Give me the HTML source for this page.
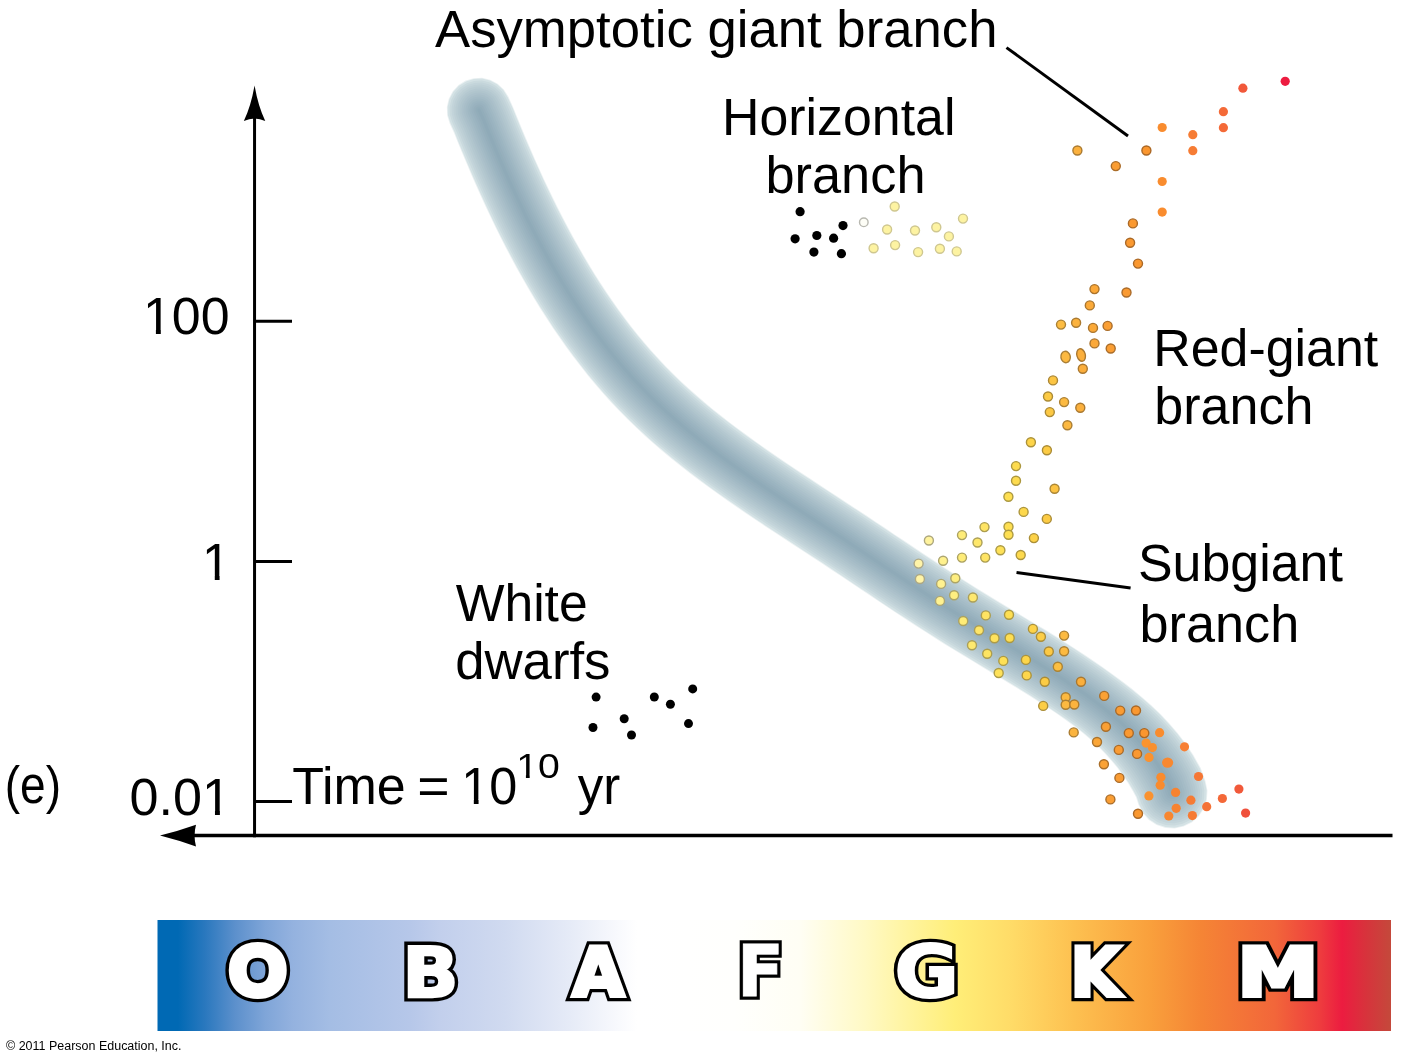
<!DOCTYPE html>
<html lang="en"><head><meta charset="utf-8"><title>H-R diagram (e) Time = 10^10 yr</title>
<style>
html,body{margin:0;padding:0;background:#fff;}
body{width:1402px;height:1062px;overflow:hidden;}
svg{display:block;}
text{white-space:pre;}
</style></head><body>
<svg width="1402" height="1062" viewBox="0 0 1402 1062">
<defs><linearGradient id="sp" x1="0" y1="0" x2="1" y2="0"><stop offset="0.0000" stop-color="#0069b4"/><stop offset="0.0166" stop-color="#0069b4"/><stop offset="0.0385" stop-color="#2a78be"/><stop offset="0.0628" stop-color="#5c90cc"/><stop offset="0.0872" stop-color="#7fa5d8"/><stop offset="0.1099" stop-color="#94b2df"/><stop offset="0.1398" stop-color="#a4bde4"/><stop offset="0.2047" stop-color="#b6c7e9"/><stop offset="0.2290" stop-color="#c2cfec"/><stop offset="0.2817" stop-color="#d0daf0"/><stop offset="0.3352" stop-color="#e6ebf7"/><stop offset="0.3725" stop-color="#f8f9fd"/><stop offset="0.3887" stop-color="#ffffff"/><stop offset="0.4682" stop-color="#fffffd"/><stop offset="0.5209" stop-color="#fffef4"/><stop offset="0.5428" stop-color="#fffce0"/><stop offset="0.5744" stop-color="#fff9c4"/><stop offset="0.6019" stop-color="#fff5a6"/><stop offset="0.6465" stop-color="#ffee78"/><stop offset="0.6911" stop-color="#ffdc68"/><stop offset="0.7438" stop-color="#fdc050"/><stop offset="0.8046" stop-color="#f9a03c"/><stop offset="0.8452" stop-color="#f58535"/><stop offset="0.9060" stop-color="#f2663a"/><stop offset="0.9424" stop-color="#ee3c3e"/><stop offset="0.9603" stop-color="#ec1c40"/><stop offset="0.9789" stop-color="#d8323c"/><stop offset="1.0000" stop-color="#c4493b"/></linearGradient></defs>
<rect width="1402" height="1062" fill="#fff"/>
<g>
<path d="M449.6 123.5 454.0 132.9 457.9 142.7 462.2 153.3 466.7 163.8 471.2 174.4 475.8 184.9 480.5 195.4 485.3 205.9 490.2 216.3 495.2 226.7 500.3 237.1 505.6 247.4 511.0 257.7 516.5 267.9 522.2 278.0 528.0 288.2 533.9 298.2 540.0 308.2 546.3 318.1 552.8 327.9 559.4 337.6 566.2 347.2 573.2 356.7 580.4 366.1 587.8 375.4 595.3 384.5 603.1 393.5 611.1 402.4 619.3 411.0 627.7 419.5 636.3 427.8 645.0 435.9 653.8 443.8 662.7 451.4 671.8 458.9 680.9 466.3 690.1 473.4 699.4 480.5 708.7 487.3 718.1 494.1 727.5 500.7 736.9 507.2 746.4 513.7 755.8 520.1 765.3 526.4 774.7 532.6 784.1 538.8 793.5 544.9 802.9 551.1 812.3 557.2 821.6 563.3 830.8 569.5 840.1 575.6 849.4 581.8 858.7 588.1 868.0 594.3 877.4 600.6 886.8 606.8 896.2 613.1 905.7 619.3 915.2 625.5 924.8 631.6 934.4 637.8 944.1 643.9 953.8 649.8 963.5 655.8 973.2 661.6 982.8 667.4 992.4 673.2 1001.9 678.9 1011.3 684.7 1020.7 690.5 1030.0 696.3 1039.2 702.2 1048.3 708.1 1057.2 714.1 1065.9 720.2 1074.4 726.4 1082.5 732.8 1090.3 739.4 1097.6 746.2 1104.6 753.2 1111.1 760.4 1117.2 767.8 1122.8 775.4 1127.9 783.1 1132.6 790.9 1136.0 797.2 1138.4 804.7 1142.6 813.0 1148.8 819.9 1156.5 825.0 1165.3 827.9 1174.6 828.5 1183.7 826.6 1192.0 822.4 1198.9 816.2 1204.0 808.5 1206.9 799.7 1207.5 790.4 1205.6 781.3 1200.8 768.1 1193.3 754.8 1185.9 743.7 1177.9 733.2 1169.5 723.4 1160.6 714.0 1151.4 705.2 1141.9 697.0 1132.4 689.1 1122.7 681.6 1113.0 674.4 1103.3 667.5 1093.6 660.8 1083.9 654.2 1074.2 647.9 1064.5 641.7 1054.8 635.6 1045.1 629.6 1035.4 623.7 1025.7 617.9 1016.1 612.1 1006.5 606.3 997.0 600.5 987.6 594.8 978.2 589.0 968.9 583.2 959.6 577.2 950.3 571.3 941.0 565.2 931.8 559.1 922.5 553.0 913.3 546.8 904.0 540.6 894.6 534.4 885.3 528.1 876.0 521.9 866.6 515.6 857.2 509.4 847.7 503.2 838.3 497.0 828.9 490.9 819.6 484.8 810.2 478.6 801.0 472.5 791.8 466.4 782.6 460.2 773.5 454.0 764.5 447.8 755.6 441.5 746.8 435.1 738.1 428.7 729.4 422.2 721.0 415.6 712.6 408.9 704.4 402.1 696.3 395.1 688.4 388.1 680.7 380.9 673.1 373.6 665.8 366.2 658.6 358.5 651.5 350.7 644.6 342.8 637.9 334.7 631.3 326.4 624.9 318.0 618.6 309.4 612.5 300.7 606.5 291.9 600.6 283.0 594.8 273.9 589.2 264.8 583.7 255.6 578.4 246.2 573.1 236.8 568.0 227.3 563.0 217.7 558.0 208.1 553.2 198.3 548.5 188.5 543.8 178.7 539.3 168.8 534.8 158.8 530.5 148.8 526.2 138.7 521.9 128.6 517.8 118.4 513.3 107.4 508.4 96.5 503.9 89.4 497.7 83.7 490.3 79.7 482.0 77.8 473.6 78.2 465.5 80.6 458.4 85.1 452.7 91.3 448.7 98.7 446.8 107.0 447.2 115.4Z" fill="#ecf2f3"/>
<path d="M450.4 123.1 454.7 132.6 458.6 142.4 463.0 153.0 467.4 163.5 471.9 174.1 476.5 184.6 481.2 195.1 486.0 205.5 490.9 216.0 495.9 226.4 501.0 236.7 506.3 247.0 511.7 257.3 517.2 267.5 522.9 277.7 528.7 287.7 534.6 297.8 540.7 307.7 547.0 317.6 553.4 327.4 560.1 337.1 566.9 346.7 573.9 356.2 581.0 365.6 588.4 374.9 596.0 384.0 603.7 393.0 611.7 401.8 619.9 410.5 628.3 419.0 636.8 427.2 645.5 435.3 654.3 443.2 663.3 450.8 672.3 458.3 681.4 465.6 690.6 472.8 699.9 479.8 709.2 486.7 718.6 493.4 728.0 500.1 737.4 506.6 746.8 513.0 756.3 519.4 765.7 525.7 775.2 531.9 784.6 538.1 794.0 544.3 803.4 550.4 812.7 556.5 822.0 562.6 831.3 568.8 840.6 575.0 849.9 581.2 859.2 587.4 868.5 593.6 877.8 599.9 887.2 606.2 896.6 612.4 906.1 618.6 915.6 624.8 925.2 631.0 934.8 637.1 944.5 643.2 954.2 649.2 963.9 655.1 973.6 660.9 983.2 666.7 992.8 672.5 1002.3 678.2 1011.8 684.0 1021.1 689.8 1030.4 695.6 1039.6 701.5 1048.7 707.4 1057.6 713.4 1066.4 719.5 1074.9 725.7 1083.0 732.2 1090.8 738.8 1098.2 745.6 1105.2 752.7 1111.7 759.9 1117.8 767.3 1123.4 774.9 1128.6 782.6 1133.3 790.5 1136.8 796.9 1139.2 804.4 1143.2 812.5 1149.3 819.3 1156.9 824.3 1165.5 827.1 1174.5 827.7 1183.4 825.8 1191.5 821.8 1198.3 815.7 1203.3 808.1 1206.1 799.5 1206.7 790.5 1204.8 781.6 1200.0 768.4 1192.6 755.2 1185.3 744.2 1177.3 733.7 1168.9 723.9 1160.0 714.6 1150.8 705.8 1141.4 697.5 1131.9 689.7 1122.2 682.3 1112.5 675.1 1102.8 668.1 1093.2 661.4 1083.5 654.9 1073.8 648.6 1064.1 642.4 1054.4 636.3 1044.7 630.3 1035.0 624.4 1025.3 618.6 1015.7 612.8 1006.1 607.0 996.6 601.2 987.2 595.5 977.8 589.7 968.5 583.8 959.2 577.9 949.9 571.9 940.6 565.9 931.3 559.8 922.1 553.7 912.8 547.5 903.5 541.3 894.2 535.0 884.9 528.8 875.5 522.6 866.1 516.3 856.7 510.1 847.3 503.9 837.9 497.7 828.5 491.6 819.1 485.4 809.8 479.3 800.5 473.2 791.3 467.0 782.2 460.9 773.1 454.7 764.1 448.4 755.1 442.1 746.3 435.8 737.6 429.3 729.0 422.8 720.5 416.2 712.1 409.5 703.9 402.7 695.8 395.7 687.9 388.7 680.1 381.5 672.6 374.2 665.2 366.7 658.0 359.1 650.9 351.3 644.0 343.3 637.3 335.2 630.7 326.9 624.3 318.4 618.0 309.9 611.8 301.2 605.8 292.4 599.9 283.4 594.2 274.4 588.5 265.2 583.1 256.0 577.7 246.6 572.4 237.2 567.3 227.7 562.2 218.1 557.3 208.4 552.5 198.7 547.8 188.9 543.1 179.0 538.6 169.1 534.1 159.1 529.7 149.1 525.4 139.0 521.2 128.9 517.0 118.7 512.6 107.7 507.6 96.9 503.3 89.9 497.2 84.3 490.0 80.5 482.0 78.6 473.7 78.9 465.9 81.4 458.9 85.7 453.3 91.8 449.5 99.0 447.6 107.0 447.9 115.3Z" fill="#d4e2e5"/>
<path d="M452.2 122.3 456.5 131.8 460.5 141.6 464.8 152.2 469.2 162.8 473.7 173.3 478.3 183.8 483.0 194.3 487.8 204.7 492.7 215.1 497.7 225.5 502.8 235.8 508.1 246.1 513.4 256.4 519.0 266.5 524.6 276.7 530.4 286.7 536.3 296.7 542.4 306.7 548.7 316.5 555.1 326.3 561.7 336.0 568.5 345.6 575.5 355.0 582.6 364.4 589.9 373.6 597.5 382.7 605.2 391.7 613.2 400.5 621.3 409.1 629.7 417.5 638.2 425.8 646.9 433.8 655.6 441.7 664.6 449.3 673.6 456.8 682.7 464.1 691.8 471.2 701.1 478.2 710.4 485.1 719.7 491.8 729.1 498.4 738.5 504.9 747.9 511.4 757.4 517.7 766.8 524.0 776.3 530.3 785.7 536.4 795.1 542.6 804.5 548.7 813.8 554.9 823.1 561.0 832.4 567.1 841.7 573.3 851.0 579.5 860.3 585.7 869.6 592.0 878.9 598.2 888.3 604.5 897.7 610.7 907.2 616.9 916.7 623.1 926.3 629.3 935.9 635.4 945.6 641.5 955.3 647.5 964.9 653.4 974.6 659.2 984.2 665.0 993.8 670.8 1003.3 676.5 1012.8 682.3 1022.2 688.1 1031.5 693.9 1040.7 699.8 1049.8 705.8 1058.8 711.8 1067.5 717.9 1076.0 724.1 1084.2 730.6 1092.1 737.2 1099.6 744.1 1106.6 751.2 1113.2 758.5 1119.4 765.9 1125.1 773.6 1130.4 781.4 1135.2 789.4 1138.8 796.0 1141.3 803.7 1145.1 811.3 1150.7 817.6 1157.8 822.3 1165.9 825.0 1174.4 825.4 1182.7 823.7 1190.3 819.9 1196.6 814.3 1201.3 807.2 1204.0 799.1 1204.4 790.6 1202.7 782.3 1198.0 769.3 1190.7 756.3 1183.5 745.4 1175.6 735.0 1167.2 725.3 1158.5 716.0 1149.4 707.3 1140.0 699.1 1130.5 691.3 1121.0 683.8 1111.3 676.7 1101.7 669.8 1092.1 663.1 1082.4 656.6 1072.7 650.3 1063.0 644.1 1053.3 638.0 1043.6 632.0 1034.0 626.1 1024.3 620.3 1014.7 614.5 1005.1 608.7 995.6 602.9 986.1 597.2 976.7 591.4 967.4 585.5 958.1 579.6 948.8 573.6 939.5 567.6 930.2 561.5 921.0 555.3 911.7 549.2 902.4 542.9 893.1 536.7 883.8 530.5 874.4 524.2 865.0 518.0 855.6 511.7 846.2 505.5 836.8 499.4 827.4 493.2 818.0 487.1 808.7 481.0 799.4 474.9 790.2 468.7 781.0 462.5 772.0 456.3 762.9 450.1 754.0 443.8 745.1 437.4 736.4 430.9 727.7 424.4 719.2 417.8 710.8 411.1 702.6 404.2 694.5 397.2 686.5 390.2 678.8 383.0 671.2 375.6 663.8 368.1 656.5 360.4 649.4 352.6 642.5 344.6 635.7 336.4 629.1 328.1 622.7 319.6 616.3 311.0 610.2 302.3 604.1 293.5 598.2 284.5 592.5 275.4 586.8 266.3 581.3 257.0 575.9 247.6 570.7 238.1 565.5 228.6 560.5 219.0 555.5 209.3 550.7 199.6 546.0 189.7 541.3 179.9 536.8 169.9 532.3 159.9 527.9 149.9 523.6 139.8 519.3 129.6 515.2 119.5 510.8 108.5 505.8 97.7 501.7 91.2 496.1 85.9 489.3 82.3 481.8 80.6 474.1 80.9 466.7 83.2 460.2 87.3 454.9 92.9 451.3 99.7 449.6 107.2 449.9 114.9Z" fill="#cadade"/>
<path d="M454.0 121.5 458.4 131.0 462.4 140.9 466.7 151.4 471.1 162.0 475.6 172.5 480.2 183.0 484.8 193.4 489.6 203.9 494.5 214.2 499.5 224.6 504.6 234.9 509.8 245.2 515.2 255.4 520.7 265.6 526.3 275.7 532.1 285.7 538.0 295.7 544.1 305.6 550.4 315.5 556.8 325.2 563.3 334.8 570.1 344.4 577.1 353.8 584.2 363.1 591.5 372.3 599.0 381.4 606.7 390.3 614.6 399.1 622.8 407.7 631.1 416.1 639.6 424.3 648.2 432.3 657.0 440.2 665.8 447.8 674.8 455.2 683.9 462.5 693.1 469.6 702.3 476.6 711.6 483.4 720.9 490.2 730.3 496.8 739.6 503.3 749.1 509.7 758.5 516.1 767.9 522.4 777.4 528.6 786.8 534.8 796.2 540.9 805.6 547.1 814.9 553.2 824.2 559.3 833.5 565.5 842.8 571.6 852.1 577.9 861.4 584.1 870.7 590.3 880.0 596.6 889.4 602.8 898.8 609.1 908.3 615.3 917.8 621.5 927.4 627.6 937.0 633.7 946.6 639.8 956.3 645.7 966.0 651.7 975.6 657.5 985.3 663.3 994.8 669.1 1004.4 674.8 1013.9 680.6 1023.3 686.4 1032.6 692.2 1041.8 698.1 1050.9 704.1 1059.9 710.1 1068.7 716.2 1077.2 722.5 1085.5 729.0 1093.4 735.7 1100.9 742.6 1108.1 749.7 1114.8 757.0 1121.0 764.5 1126.9 772.3 1132.2 780.2 1137.1 788.3 1140.8 795.1 1143.4 803.0 1146.9 810.0 1152.2 815.9 1158.8 820.3 1166.3 822.8 1174.2 823.2 1182.0 821.6 1189.0 818.1 1194.9 812.8 1199.3 806.2 1201.8 798.7 1202.2 790.8 1200.6 783.0 1196.0 770.2 1188.8 757.4 1181.6 746.6 1173.9 736.4 1165.6 726.6 1156.9 717.5 1147.9 708.8 1138.7 700.6 1129.2 692.8 1119.7 685.4 1110.1 678.3 1100.5 671.4 1090.9 664.7 1081.3 658.3 1071.6 651.9 1062.0 645.8 1052.3 639.7 1042.6 633.7 1032.9 627.8 1023.3 622.0 1013.6 616.2 1004.1 610.4 994.5 604.6 985.1 598.9 975.7 593.1 966.3 587.2 957.0 581.3 947.7 575.3 938.4 569.3 929.1 563.1 919.9 557.0 910.6 550.8 901.3 544.6 892.0 538.4 882.6 532.1 873.3 525.9 863.9 519.6 854.5 513.4 845.1 507.2 835.7 501.0 826.3 494.9 816.9 488.8 807.6 482.6 798.3 476.5 789.1 470.4 779.9 464.2 770.8 458.0 761.8 451.7 752.8 445.4 744.0 439.0 735.2 432.5 726.5 426.0 718.0 419.4 709.6 412.6 701.3 405.7 693.2 398.8 685.2 391.6 677.4 384.4 669.8 377.0 662.3 369.5 655.1 361.8 647.9 353.9 641.0 345.9 634.2 337.7 627.6 329.3 621.1 320.8 614.7 312.2 608.5 303.5 602.5 294.6 596.5 285.6 590.8 276.5 585.1 267.3 579.6 258.0 574.2 248.6 568.9 239.1 563.7 229.6 558.7 219.9 553.7 210.2 548.9 200.4 544.2 190.6 539.5 180.7 534.9 170.7 530.5 160.7 526.1 150.7 521.7 140.6 517.5 130.4 513.3 120.2 508.9 109.3 504.0 98.5 500.2 92.5 494.9 87.6 488.6 84.2 481.6 82.6 474.4 82.9 467.5 85.0 461.5 88.8 456.6 94.1 453.2 100.4 451.6 107.4 451.9 114.6Z" fill="#c3d4da"/>
<path d="M455.8 120.6 460.2 130.2 464.2 140.1 468.5 150.7 472.9 161.2 477.4 171.7 482.0 182.2 486.7 192.6 491.4 203.0 496.3 213.4 501.3 223.7 506.4 234.0 511.6 244.3 517.0 254.5 522.5 264.6 528.1 274.7 533.8 284.7 539.7 294.7 545.8 304.6 552.0 314.4 558.4 324.1 565.0 333.7 571.7 343.2 578.7 352.6 585.8 361.9 593.0 371.1 600.5 380.1 608.2 389.0 616.1 397.7 624.2 406.3 632.5 414.7 640.9 422.9 649.5 430.9 658.3 438.7 667.1 446.2 676.1 453.7 685.1 460.9 694.3 468.1 703.5 475.0 712.7 481.8 722.1 488.6 731.4 495.1 740.8 501.6 750.2 508.1 759.6 514.4 769.0 520.7 778.5 526.9 787.9 533.1 797.3 539.2 806.6 545.4 816.0 551.5 825.3 557.6 834.6 563.8 843.9 570.0 853.2 576.2 862.5 582.4 871.8 588.7 881.2 594.9 890.5 601.2 900.0 607.4 909.4 613.6 918.9 619.8 928.4 625.9 938.0 632.0 947.7 638.1 957.3 644.0 967.0 649.9 976.7 655.8 986.3 661.6 995.9 667.4 1005.4 673.1 1014.9 678.9 1024.3 684.7 1033.6 690.5 1042.9 696.5 1052.0 702.4 1061.0 708.5 1069.8 714.6 1078.4 720.9 1086.7 727.4 1094.7 734.1 1102.3 741.1 1109.5 748.2 1116.3 755.6 1122.7 763.2 1128.6 771.0 1134.0 778.9 1139.0 787.1 1142.8 794.1 1145.5 802.2 1148.7 808.8 1153.6 814.3 1159.8 818.3 1166.7 820.6 1174.0 821.0 1181.2 819.5 1187.8 816.3 1193.3 811.4 1197.3 805.2 1199.6 798.3 1200.0 791.0 1198.5 783.8 1194.0 771.2 1186.9 758.6 1179.8 747.9 1172.2 737.7 1164.0 728.0 1155.4 718.9 1146.5 710.3 1137.3 702.1 1127.9 694.4 1118.5 687.0 1108.9 679.9 1099.4 673.0 1089.8 666.4 1080.2 659.9 1070.6 653.6 1060.9 647.5 1051.2 641.4 1041.5 635.4 1031.9 629.5 1022.2 623.7 1012.6 617.9 1003.0 612.1 993.5 606.4 984.0 600.6 974.6 594.8 965.3 588.9 955.9 583.0 946.6 577.0 937.3 570.9 928.0 564.8 918.8 558.7 909.5 552.5 900.2 546.3 890.9 540.0 881.5 533.8 872.2 527.5 862.8 521.3 853.4 515.1 844.0 508.9 834.6 502.7 825.2 496.6 815.8 490.4 806.5 484.3 797.2 478.2 788.0 472.0 778.8 465.9 769.7 459.6 760.6 453.4 751.7 447.0 742.8 440.6 734.0 434.1 725.3 427.6 716.8 420.9 708.3 414.2 700.0 407.3 691.8 400.3 683.8 393.1 676.0 385.9 668.4 378.5 660.9 370.9 653.6 363.2 646.4 355.2 639.5 347.2 632.6 338.9 626.0 330.6 619.5 322.0 613.1 313.4 606.9 304.6 600.8 295.7 594.9 286.7 589.1 277.5 583.4 268.3 577.9 259.0 572.5 249.6 567.2 240.1 562.0 230.5 556.9 220.8 552.0 211.1 547.1 201.3 542.3 191.5 537.7 181.5 533.1 171.6 528.6 161.5 524.2 151.5 519.9 141.3 515.6 131.2 511.5 121.0 507.1 110.1 502.2 99.4 498.6 93.7 493.8 89.2 487.9 86.1 481.4 84.6 474.7 84.9 468.4 86.8 462.7 90.4 458.2 95.2 455.1 101.1 453.6 107.6 453.9 114.3Z" fill="#bed0d6"/>
<path d="M457.6 119.8 462.1 129.4 466.1 139.4 470.4 149.9 474.8 160.4 479.2 170.9 483.8 181.4 488.5 191.8 493.2 202.2 498.1 212.5 503.1 222.8 508.2 233.1 513.4 243.3 518.7 253.5 524.2 263.7 529.8 273.7 535.6 283.7 541.5 293.6 547.5 303.5 553.7 313.3 560.1 323.0 566.6 332.6 573.4 342.1 580.3 351.4 587.3 360.7 594.6 369.8 602.1 378.8 609.7 387.7 617.6 396.4 625.6 404.9 633.9 413.3 642.3 421.4 650.9 429.4 659.6 437.1 668.4 444.7 677.3 452.1 686.4 459.4 695.5 466.5 704.7 473.4 713.9 480.2 723.2 486.9 732.6 493.5 741.9 500.0 751.3 506.4 760.7 512.7 770.1 519.0 779.6 525.2 789.0 531.4 798.4 537.6 807.7 543.7 817.1 549.8 826.4 556.0 835.7 562.1 845.0 568.3 854.3 574.5 863.6 580.8 872.9 587.0 882.3 593.2 891.6 599.5 901.1 605.7 910.5 611.9 920.0 618.1 929.5 624.2 939.1 630.3 948.7 636.4 958.4 642.3 968.1 648.2 977.7 654.1 987.3 659.9 996.9 665.6 1006.4 671.4 1015.9 677.2 1025.4 683.0 1034.7 688.9 1044.0 694.8 1053.1 700.8 1062.1 706.8 1071.0 713.0 1079.6 719.3 1088.0 725.8 1096.0 732.6 1103.7 739.5 1111.0 746.7 1117.8 754.1 1124.3 761.8 1130.3 769.6 1135.8 777.7 1140.9 786.0 1144.8 793.2 1147.6 801.5 1150.6 807.5 1155.1 812.6 1160.7 816.3 1167.1 818.4 1173.9 818.8 1180.5 817.4 1186.5 814.4 1191.6 809.9 1195.3 804.3 1197.4 797.9 1197.8 791.1 1196.4 784.5 1192.0 772.1 1185.0 759.7 1178.0 749.1 1170.4 739.0 1162.4 729.4 1153.8 720.3 1145.0 711.8 1135.9 703.7 1126.6 696.0 1117.2 688.6 1107.7 681.5 1098.2 674.7 1088.7 668.0 1079.1 661.6 1069.5 655.3 1059.8 649.1 1050.2 643.1 1040.5 637.1 1030.9 631.2 1021.2 625.4 1011.6 619.6 1002.0 613.8 992.5 608.1 983.0 602.3 973.5 596.5 964.2 590.6 954.9 584.7 945.5 578.6 936.2 572.6 926.9 566.5 917.6 560.3 908.4 554.1 899.1 547.9 889.7 541.7 880.4 535.5 871.1 529.2 861.7 523.0 852.3 516.7 842.9 510.5 833.5 504.4 824.1 498.2 814.7 492.1 805.4 486.0 796.1 479.9 786.9 473.7 777.7 467.5 768.6 461.3 759.5 455.0 750.5 448.7 741.6 442.2 732.8 435.7 724.1 429.2 715.5 422.5 707.1 415.7 698.7 408.8 690.5 401.8 682.5 394.6 674.6 387.3 666.9 379.9 659.4 372.3 652.1 364.5 644.9 356.6 637.9 348.5 631.1 340.2 624.4 331.8 617.9 323.2 611.5 314.5 605.2 305.7 599.1 296.8 593.2 287.8 587.4 278.6 581.7 269.4 576.1 260.0 570.7 250.6 565.4 241.0 560.2 231.4 555.1 221.8 550.2 212.0 545.3 202.2 540.5 192.3 535.9 182.4 531.3 172.4 526.8 162.3 522.4 152.3 518.1 142.1 513.8 131.9 509.6 121.7 505.2 110.9 500.4 100.2 497.1 95.0 492.6 90.8 487.2 88.0 481.2 86.6 475.1 86.8 469.2 88.6 464.0 91.9 459.8 96.4 457.0 101.8 455.6 107.8 455.8 113.9Z" fill="#b9ccd3"/>
<path d="M459.5 119.0 463.9 128.6 467.9 138.6 472.2 149.2 476.6 159.6 481.1 170.1 485.6 180.5 490.3 191.0 495.0 201.3 499.9 211.7 504.9 222.0 510.0 232.2 515.2 242.4 520.5 252.6 526.0 262.7 531.6 272.7 537.3 282.7 543.2 292.6 549.2 302.4 555.4 312.2 561.8 321.8 568.3 331.4 575.0 340.9 581.9 350.2 588.9 359.5 596.2 368.6 603.6 377.5 611.2 386.4 619.0 395.0 627.1 403.5 635.3 411.9 643.7 420.0 652.2 427.9 660.9 435.6 669.7 443.2 678.6 450.6 687.6 457.8 696.7 464.9 705.9 471.8 715.1 478.6 724.4 485.3 733.7 491.9 743.0 498.4 752.4 504.8 761.8 511.1 771.2 517.4 780.7 523.6 790.1 529.8 799.5 535.9 808.8 542.0 818.2 548.2 827.5 554.3 836.8 560.5 846.1 566.6 855.4 572.9 864.7 579.1 874.0 585.3 883.4 591.6 892.8 597.8 902.2 604.0 911.6 610.3 921.1 616.4 930.6 622.6 940.2 628.6 949.8 634.7 959.4 640.6 969.1 646.5 978.7 652.4 988.4 658.2 997.9 663.9 1007.5 669.7 1017.0 675.5 1026.4 681.3 1035.8 687.2 1045.0 693.1 1054.2 699.1 1063.3 705.2 1072.2 711.4 1080.8 717.7 1089.2 724.2 1097.3 731.0 1105.0 738.0 1112.4 745.2 1119.4 752.7 1125.9 760.4 1132.0 768.3 1137.6 776.5 1142.8 784.9 1146.9 792.3 1149.6 800.8 1152.4 806.3 1156.5 810.9 1161.7 814.3 1167.6 816.2 1173.7 816.6 1179.8 815.4 1185.3 812.6 1189.9 808.5 1193.3 803.3 1195.2 797.4 1195.6 791.3 1194.4 785.2 1190.0 773.0 1183.1 760.8 1176.2 750.3 1168.7 740.3 1160.7 730.8 1152.3 721.8 1143.6 713.3 1134.5 705.2 1125.3 697.5 1116.0 690.2 1106.5 683.1 1097.1 676.3 1087.5 669.7 1078.0 663.3 1068.4 657.0 1058.8 650.8 1049.1 644.8 1039.5 638.8 1029.8 632.9 1020.2 627.1 1010.5 621.3 1001.0 615.5 991.4 609.8 981.9 604.0 972.5 598.2 963.1 592.3 953.8 586.3 944.4 580.3 935.1 574.3 925.8 568.2 916.5 562.0 907.3 555.8 898.0 549.6 888.6 543.4 879.3 537.1 870.0 530.9 860.6 524.6 851.2 518.4 841.8 512.2 832.4 506.1 823.0 499.9 813.6 493.8 804.3 487.7 795.0 481.5 785.8 475.4 776.6 469.2 767.4 462.9 758.3 456.6 749.3 450.3 740.4 443.9 731.6 437.3 722.9 430.8 714.3 424.1 705.8 417.3 697.4 410.3 689.2 403.3 681.2 396.1 673.3 388.8 665.5 381.3 658.0 373.7 650.6 365.9 643.4 357.9 636.4 349.8 629.5 341.5 622.8 333.0 616.3 324.4 609.8 315.7 603.6 306.9 597.5 297.9 591.5 288.8 585.7 279.7 580.0 270.4 574.4 261.0 569.0 251.5 563.7 242.0 558.5 232.4 553.4 222.7 548.4 212.9 543.5 203.1 538.7 193.2 534.1 183.2 529.5 173.2 525.0 163.2 520.6 153.1 516.2 142.9 511.9 132.7 507.8 122.5 503.4 111.7 498.5 101.0 495.6 96.3 491.5 92.5 486.5 89.8 481.0 88.6 475.4 88.8 470.0 90.5 465.3 93.4 461.5 97.5 458.8 102.5 457.6 108.0 457.8 113.6Z" fill="#b4c8d0"/>
<path d="M461.3 118.1 465.7 127.8 469.8 137.9 474.1 148.4 478.4 158.9 482.9 169.3 487.5 179.7 492.1 190.1 496.9 200.5 501.7 210.8 506.7 221.1 511.8 231.3 516.9 241.5 522.3 251.7 527.7 261.7 533.3 271.7 539.0 281.7 544.9 291.6 550.9 301.4 557.1 311.1 563.4 320.7 569.9 330.3 576.6 339.7 583.5 349.0 590.5 358.2 597.7 367.3 605.1 376.2 612.7 385.0 620.5 393.7 628.5 402.2 636.7 410.4 645.1 418.5 653.6 426.4 662.2 434.1 671.0 441.7 679.9 449.0 688.9 456.2 697.9 463.3 707.1 470.2 716.3 477.0 725.5 483.7 734.8 490.2 744.2 496.7 753.6 503.1 762.9 509.4 772.3 515.7 781.8 521.9 791.2 528.1 800.6 534.2 809.9 540.4 819.3 546.5 828.6 552.6 837.9 558.8 847.2 565.0 856.5 571.2 865.8 577.4 875.2 583.7 884.5 589.9 893.9 596.2 903.3 602.4 912.7 608.6 922.2 614.7 931.7 620.9 941.2 627.0 950.8 633.0 960.5 638.9 970.1 644.8 979.8 650.6 989.4 656.4 999.0 662.2 1008.5 668.0 1018.0 673.8 1027.5 679.6 1036.8 685.5 1046.1 691.4 1055.3 697.4 1064.4 703.5 1073.3 709.7 1082.0 716.1 1090.5 722.6 1098.6 729.4 1106.4 736.5 1113.9 743.7 1120.9 751.2 1127.5 759.0 1133.7 767.0 1139.4 775.3 1144.6 783.8 1148.9 791.4 1151.7 800.0 1154.3 805.0 1158.0 809.2 1162.7 812.3 1168.0 814.1 1173.6 814.4 1179.0 813.3 1184.0 810.7 1188.2 807.0 1191.3 802.3 1193.1 797.0 1193.4 791.4 1192.3 786.0 1187.9 773.9 1181.2 762.0 1174.4 751.5 1167.0 741.6 1159.1 732.2 1150.8 723.2 1142.1 714.8 1133.2 706.7 1124.0 699.1 1114.7 691.8 1105.3 684.7 1095.9 677.9 1086.4 671.3 1076.9 664.9 1067.3 658.7 1057.7 652.5 1048.1 646.5 1038.4 640.5 1028.8 634.7 1019.1 628.8 1009.5 623.0 999.9 617.3 990.4 611.5 980.9 605.7 971.4 599.9 962.1 594.0 952.7 588.0 943.4 582.0 934.0 575.9 924.7 569.8 915.4 563.7 906.1 557.5 896.8 551.3 887.5 545.0 878.2 538.8 868.9 532.5 859.5 526.3 850.1 520.1 840.7 513.9 831.3 507.7 821.9 501.6 812.5 495.5 803.2 489.3 793.9 483.2 784.6 477.0 775.4 470.8 766.3 464.6 757.2 458.3 748.2 451.9 739.3 445.5 730.4 438.9 721.7 432.3 713.0 425.6 704.5 418.8 696.1 411.9 687.9 404.8 679.8 397.6 671.9 390.2 664.1 382.7 656.6 375.1 649.2 367.2 641.9 359.2 634.9 351.0 628.0 342.7 621.2 334.3 614.7 325.6 608.2 316.9 601.9 308.0 595.8 299.0 589.8 289.9 584.0 280.7 578.3 271.4 572.7 262.0 567.2 252.5 561.9 243.0 556.7 233.3 551.6 223.6 546.6 213.8 541.7 204.0 536.9 194.0 532.2 184.1 527.6 174.0 523.1 164.0 518.7 153.8 514.4 143.7 510.1 133.5 505.9 123.2 501.6 112.4 496.7 101.9 494.0 97.6 490.3 94.1 485.8 91.7 480.8 90.6 475.7 90.8 470.9 92.3 466.6 95.0 463.1 98.7 460.7 103.2 459.6 108.2 459.8 113.3Z" fill="#b0c5cd"/>
<path d="M463.1 117.3 467.6 127.1 471.6 137.1 475.9 147.6 480.3 158.1 484.7 168.5 489.3 178.9 493.9 189.3 498.7 199.6 503.5 209.9 508.5 220.2 513.5 230.4 518.7 240.6 524.0 250.7 529.5 260.8 535.0 270.8 540.7 280.7 546.6 290.5 552.6 300.3 558.8 310.0 565.1 319.6 571.6 329.1 578.2 338.5 585.1 347.8 592.1 357.0 599.3 366.0 606.6 375.0 614.2 383.7 622.0 392.3 629.9 400.8 638.1 409.0 646.4 417.1 654.9 424.9 663.5 432.6 672.3 440.1 681.1 447.5 690.1 454.7 699.1 461.7 708.3 468.6 717.4 475.4 726.7 482.0 736.0 488.6 745.3 495.1 754.7 501.4 764.1 507.8 773.4 514.0 782.9 520.2 792.3 526.4 801.6 532.6 811.0 538.7 820.4 544.8 829.7 551.0 839.0 557.1 848.3 563.3 857.6 569.5 866.9 575.8 876.3 582.0 885.6 588.2 895.0 594.5 904.4 600.7 913.8 606.9 923.2 613.1 932.7 619.2 942.3 625.3 951.9 631.3 961.5 637.2 971.2 643.1 980.8 648.9 990.4 654.7 1000.0 660.5 1009.6 666.3 1019.1 672.1 1028.5 677.9 1037.9 683.8 1047.2 689.7 1056.4 695.8 1065.5 701.9 1074.5 708.1 1083.2 714.5 1091.7 721.1 1099.9 727.9 1107.8 734.9 1115.3 742.2 1122.5 749.8 1129.2 757.6 1135.4 765.7 1141.2 774.0 1146.5 782.6 1150.9 790.5 1153.8 799.3 1156.1 803.8 1159.4 807.6 1163.6 810.3 1168.4 811.9 1173.4 812.2 1178.3 811.2 1182.8 808.9 1186.6 805.6 1189.3 801.4 1190.9 796.6 1191.2 791.6 1190.2 786.7 1185.9 774.8 1179.4 763.1 1172.6 752.8 1165.3 742.9 1157.5 733.6 1149.2 724.7 1140.7 716.2 1131.8 708.2 1122.7 700.6 1113.5 693.3 1104.1 686.3 1094.7 679.6 1085.3 673.0 1075.8 666.6 1066.2 660.3 1056.6 654.2 1047.0 648.2 1037.4 642.2 1027.7 636.4 1018.1 630.5 1008.5 624.7 998.9 619.0 989.3 613.2 979.8 607.4 970.4 601.6 961.0 595.7 951.6 589.7 942.3 583.7 932.9 577.6 923.6 571.5 914.3 565.3 905.0 559.1 895.7 552.9 886.4 546.7 877.1 540.4 867.8 534.2 858.4 528.0 849.0 521.7 839.6 515.6 830.2 509.4 820.8 503.3 811.4 497.1 802.1 491.0 792.8 484.9 783.5 478.7 774.3 472.5 765.2 466.2 756.0 459.9 747.0 453.5 738.1 447.1 729.2 440.6 720.4 433.9 711.8 427.2 703.3 420.4 694.9 413.4 686.6 406.3 678.5 399.0 670.5 391.7 662.7 384.1 655.1 376.4 647.7 368.6 640.4 360.5 633.4 352.3 626.4 344.0 619.7 335.5 613.1 326.8 606.6 318.1 600.3 309.2 594.2 300.1 588.2 291.0 582.3 281.8 576.6 272.5 571.0 263.0 565.5 253.5 560.1 243.9 554.9 234.3 549.8 224.5 544.8 214.7 539.9 204.8 535.1 194.9 530.4 184.9 525.8 174.9 521.3 164.8 516.9 154.6 512.5 144.5 508.3 134.2 504.0 124.0 499.7 113.2 494.9 102.7 492.5 98.8 489.1 95.7 485.1 93.6 480.6 92.6 476.1 92.7 471.7 94.1 467.8 96.5 464.7 99.9 462.6 103.9 461.6 108.4 461.7 112.9Z" fill="#acc1cb"/>
<path d="M464.9 116.5 469.4 126.3 473.5 136.4 477.8 146.9 482.1 157.3 486.6 167.7 491.1 178.1 495.8 188.5 500.5 198.8 505.3 209.1 510.3 219.3 515.3 229.5 520.5 239.7 525.8 249.8 531.2 259.8 536.8 269.8 542.5 279.7 548.3 289.5 554.3 299.3 560.4 308.9 566.7 318.5 573.2 328.0 579.8 337.4 586.7 346.6 593.6 355.8 600.8 364.8 608.2 373.7 615.7 382.4 623.4 391.0 631.4 399.4 639.5 407.6 647.8 415.6 656.3 423.5 664.9 431.1 673.6 438.6 682.4 445.9 691.3 453.1 700.4 460.1 709.5 467.0 718.6 473.8 727.9 480.4 737.1 487.0 746.4 493.4 755.8 499.8 765.2 506.1 774.6 512.4 784.0 518.6 793.4 524.7 802.7 530.9 812.1 537.0 821.5 543.2 830.8 549.3 840.1 555.5 849.4 561.7 858.7 567.9 868.1 574.1 877.4 580.3 886.7 586.6 896.1 592.8 905.5 599.0 914.9 605.2 924.3 611.4 933.8 617.5 943.4 623.6 953.0 629.6 962.6 635.5 972.2 641.4 981.8 647.2 991.5 653.0 1001.0 658.8 1010.6 664.6 1020.1 670.4 1029.6 676.2 1039.0 682.1 1048.3 688.1 1057.5 694.1 1066.7 700.2 1075.6 706.5 1084.4 712.9 1093.0 719.5 1101.2 726.3 1109.2 733.4 1116.8 740.8 1124.0 748.4 1130.8 756.2 1137.2 764.4 1143.0 772.8 1148.4 781.5 1152.9 789.6 1155.9 798.6 1157.9 802.6 1160.9 805.9 1164.6 808.3 1168.8 809.7 1173.2 810.0 1177.6 809.1 1181.6 807.1 1184.9 804.1 1187.3 800.4 1188.7 796.2 1189.0 791.8 1188.1 787.4 1183.9 775.7 1177.5 764.2 1170.8 754.0 1163.6 744.2 1155.9 734.9 1147.7 726.1 1139.2 717.7 1130.4 709.8 1121.4 702.2 1112.2 694.9 1102.9 687.9 1093.6 681.2 1084.2 674.6 1074.7 668.3 1065.1 662.0 1055.6 655.9 1045.9 649.9 1036.3 643.9 1026.7 638.1 1017.1 632.2 1007.5 626.5 997.9 620.7 988.3 614.9 978.8 609.1 969.3 603.3 959.9 597.4 950.5 591.4 941.2 585.4 931.8 579.3 922.5 573.2 913.2 567.0 903.9 560.8 894.6 554.6 885.3 548.3 876.0 542.1 866.6 535.9 857.3 529.6 847.9 523.4 838.5 517.2 829.1 511.1 819.7 504.9 810.3 498.8 801.0 492.7 791.7 486.5 782.4 480.3 773.2 474.1 764.0 467.9 754.9 461.5 745.9 455.2 736.9 448.7 728.0 442.2 719.2 435.5 710.6 428.8 702.0 421.9 693.6 414.9 685.3 407.8 677.1 400.5 669.1 393.1 661.3 385.6 653.7 377.8 646.2 369.9 638.9 361.9 631.8 353.6 624.9 345.2 618.1 336.7 611.5 328.0 605.0 319.2 598.7 310.3 592.5 301.3 586.5 292.1 580.6 282.8 574.8 273.5 569.2 264.0 563.8 254.5 558.4 244.9 553.2 235.2 548.0 225.4 543.0 215.6 538.1 205.7 533.3 195.8 528.6 185.8 524.0 175.7 519.5 165.6 515.0 155.4 510.7 145.2 506.4 135.0 502.2 124.7 497.9 114.0 493.1 103.5 490.9 100.1 488.0 97.4 484.4 95.5 480.5 94.6 476.4 94.7 472.5 95.9 469.1 98.1 466.4 101.0 464.5 104.6 463.6 108.5 463.7 112.6Z" fill="#a8bec8"/>
<path d="M466.7 115.6 471.2 125.5 475.3 135.6 479.6 146.1 484.0 156.5 488.4 166.9 493.0 177.3 497.6 187.7 502.3 198.0 507.1 208.2 512.1 218.5 517.1 228.6 522.3 238.8 527.6 248.8 533.0 258.8 538.5 268.8 544.2 278.7 550.0 288.5 556.0 298.2 562.1 307.8 568.4 317.4 574.8 326.9 581.5 336.2 588.3 345.4 595.2 354.5 602.4 363.5 609.7 372.4 617.2 381.1 624.9 389.6 632.8 398.0 640.9 406.2 649.2 414.2 657.6 422.0 666.2 429.6 674.9 437.1 683.7 444.4 692.6 451.5 701.6 458.5 710.7 465.4 719.8 472.1 729.0 478.8 738.3 485.3 747.6 491.8 756.9 498.1 766.3 504.4 775.7 510.7 785.1 516.9 794.4 523.1 803.8 529.2 813.2 535.3 822.6 541.5 831.9 547.6 841.2 553.8 850.5 560.0 859.9 566.2 869.2 572.4 878.5 578.7 887.8 584.9 897.2 591.2 906.6 597.4 916.0 603.6 925.4 609.7 934.9 615.8 944.4 621.9 954.0 627.9 963.6 633.8 973.2 639.7 982.9 645.5 992.5 651.3 1002.1 657.1 1011.6 662.9 1021.2 668.7 1030.6 674.5 1040.0 680.4 1049.4 686.4 1058.6 692.4 1067.8 698.6 1076.8 704.8 1085.6 711.3 1094.2 717.9 1102.5 724.8 1110.5 731.9 1118.2 739.3 1125.5 746.9 1132.4 754.9 1138.9 763.1 1144.9 771.6 1150.3 780.4 1154.9 788.7 1158.0 797.9 1159.8 801.3 1162.3 804.2 1165.6 806.3 1169.2 807.5 1173.1 807.8 1176.9 807.0 1180.3 805.2 1183.2 802.7 1185.3 799.4 1186.5 795.8 1186.8 791.9 1186.0 788.1 1181.9 776.6 1175.6 765.3 1169.0 755.2 1161.9 745.5 1154.2 736.3 1146.2 727.6 1137.7 719.2 1129.0 711.3 1120.1 703.8 1111.0 696.5 1101.8 689.6 1092.4 682.8 1083.0 676.3 1073.6 669.9 1064.0 663.7 1054.5 657.6 1044.9 651.6 1035.3 645.7 1025.7 639.8 1016.0 634.0 1006.4 628.2 996.8 622.4 987.3 616.6 977.7 610.8 968.3 605.0 958.9 599.1 949.5 593.1 940.1 587.0 930.8 581.0 921.4 574.8 912.1 568.7 902.8 562.5 893.5 556.2 884.2 550.0 874.9 543.8 865.5 537.5 856.2 531.3 846.8 525.1 837.4 518.9 828.0 512.8 818.6 506.6 809.3 500.5 799.9 494.3 790.6 488.2 781.3 482.0 772.1 475.8 762.9 469.5 753.8 463.2 744.7 456.8 735.7 450.3 726.8 443.8 718.0 437.1 709.3 430.3 700.7 423.5 692.3 416.4 684.0 409.3 675.8 402.0 667.8 394.6 659.9 387.0 652.2 379.2 644.8 371.3 637.4 363.2 630.3 354.9 623.3 346.5 616.5 337.9 609.9 329.2 603.4 320.4 597.0 311.4 590.8 302.4 584.8 293.2 578.9 283.9 573.1 274.5 567.5 265.0 562.0 255.5 556.6 245.8 551.4 236.1 546.3 226.4 541.2 216.5 536.3 206.6 531.5 196.6 526.8 186.6 522.2 176.5 517.6 166.4 513.2 156.2 508.8 146.0 504.6 135.8 500.3 125.5 496.1 114.8 491.3 104.4 489.4 101.4 486.8 99.0 483.7 97.3 480.3 96.6 476.7 96.7 473.4 97.7 470.4 99.6 468.0 102.2 466.3 105.3 465.6 108.7 465.7 112.3Z" fill="#a4bbc6"/>
<path d="M468.5 114.8 473.1 124.7 477.2 134.9 481.5 145.3 485.8 155.7 490.3 166.1 494.8 176.5 499.4 186.8 504.1 197.1 508.9 207.4 513.9 217.6 518.9 227.7 524.1 237.8 529.3 247.9 534.7 257.9 540.3 267.8 545.9 277.7 551.7 287.4 557.7 297.1 563.8 306.8 570.1 316.3 576.5 325.7 583.1 335.0 589.9 344.2 596.8 353.3 603.9 362.3 611.2 371.1 618.7 379.7 626.4 388.2 634.3 396.6 642.3 404.8 650.6 412.7 659.0 420.5 667.5 428.1 676.2 435.5 684.9 442.8 693.8 450.0 702.8 456.9 711.9 463.8 721.0 470.5 730.2 477.2 739.4 483.7 748.7 490.1 758.0 496.5 767.4 502.8 776.8 509.0 786.2 515.2 795.5 521.4 804.9 527.5 814.3 533.7 823.7 539.8 833.0 546.0 842.3 552.1 851.7 558.3 861.0 564.6 870.3 570.8 879.6 577.0 888.9 583.3 898.3 589.5 907.7 595.7 917.1 601.9 926.5 608.0 936.0 614.1 945.5 620.2 955.1 626.2 964.7 632.1 974.3 638.0 983.9 643.8 993.5 649.6 1003.1 655.4 1012.7 661.2 1022.2 667.0 1031.7 672.8 1041.1 678.7 1050.5 684.7 1059.7 690.8 1068.9 696.9 1077.9 703.2 1086.8 709.7 1095.4 716.3 1103.8 723.2 1111.9 730.4 1119.7 737.8 1127.1 745.5 1134.1 753.5 1140.6 761.8 1146.7 770.4 1152.2 779.3 1156.9 787.8 1160.1 797.1 1161.6 800.1 1163.8 802.5 1166.5 804.3 1169.6 805.4 1172.9 805.6 1176.1 804.9 1179.1 803.4 1181.5 801.2 1183.3 798.5 1184.4 795.4 1184.6 792.1 1183.9 788.9 1179.9 777.5 1173.7 766.5 1167.2 756.4 1160.1 746.8 1152.6 737.7 1144.6 729.0 1136.3 720.7 1127.7 712.8 1118.8 705.3 1109.8 698.1 1100.6 691.2 1091.3 684.5 1081.9 677.9 1072.5 671.6 1063.0 665.4 1053.4 659.3 1043.8 653.3 1034.2 647.4 1024.6 641.5 1015.0 635.7 1005.4 629.9 995.8 624.1 986.2 618.3 976.7 612.5 967.2 606.7 957.8 600.7 948.4 594.8 939.0 588.7 929.7 582.6 920.3 576.5 911.0 570.3 901.7 564.1 892.4 557.9 883.1 551.7 873.8 545.4 864.4 539.2 855.1 533.0 845.7 526.8 836.3 520.6 826.9 514.4 817.5 508.3 808.2 502.2 798.8 496.0 789.5 489.9 780.2 483.7 770.9 477.4 761.8 471.2 752.6 464.8 743.5 458.4 734.5 451.9 725.6 445.4 716.8 438.7 708.1 431.9 699.5 425.0 691.0 418.0 682.6 410.8 674.4 403.5 666.4 396.0 658.5 388.4 650.8 380.6 643.3 372.7 635.9 364.5 628.8 356.2 621.8 347.8 614.9 339.2 608.3 330.4 601.7 321.6 595.4 312.6 589.2 303.5 583.1 294.3 577.2 285.0 571.4 275.6 565.8 266.1 560.3 256.5 554.9 246.8 549.6 237.1 544.5 227.3 539.4 217.4 534.5 207.5 529.7 197.5 525.0 187.4 520.4 177.3 515.8 167.2 511.4 157.0 507.0 146.8 502.7 136.5 498.5 126.2 494.2 115.6 489.5 105.2 487.9 102.7 485.7 100.6 483.0 99.2 480.1 98.6 477.1 98.7 474.2 99.5 471.7 101.1 469.6 103.3 468.2 106.0 467.6 108.9 467.7 111.9Z" fill="#a0b8c3"/>
<path d="M470.4 114.0 474.9 123.9 479.0 134.1 483.3 144.6 487.7 155.0 492.1 165.3 496.6 175.7 501.2 186.0 505.9 196.3 510.7 206.5 515.7 216.7 520.7 226.8 525.8 236.9 531.1 246.9 536.5 256.9 542.0 266.8 547.7 276.7 553.4 286.4 559.4 296.1 565.5 305.7 571.7 315.2 578.1 324.6 584.7 333.9 591.5 343.0 598.4 352.1 605.5 361.0 612.7 369.8 620.2 378.4 627.9 386.9 635.7 395.2 643.7 403.3 651.9 411.3 660.3 419.0 668.8 426.6 677.4 434.0 686.2 441.3 695.1 448.4 704.0 455.4 713.1 462.2 722.2 468.9 731.3 475.5 740.6 482.0 749.8 488.5 759.2 494.8 768.5 501.1 777.9 507.4 787.3 513.6 796.6 519.7 806.0 525.9 815.4 532.0 824.8 538.1 834.1 544.3 843.5 550.5 852.8 556.7 862.1 562.9 871.4 569.1 880.7 575.4 890.0 581.6 899.4 587.8 908.8 594.0 918.2 600.2 927.6 606.4 937.1 612.4 946.6 618.5 956.1 624.5 965.7 630.4 975.3 636.3 984.9 642.1 994.6 647.9 1004.1 653.7 1013.7 659.4 1023.3 665.3 1032.8 671.1 1042.2 677.0 1051.6 683.0 1060.8 689.1 1070.0 695.3 1079.1 701.6 1088.0 708.0 1096.7 714.7 1105.1 721.6 1113.3 728.8 1121.1 736.3 1128.6 744.0 1135.7 752.1 1142.3 760.5 1148.5 769.1 1154.1 778.1 1159.0 786.9 1162.2 796.4 1163.4 798.8 1165.2 800.8 1167.5 802.3 1170.1 803.2 1172.8 803.3 1175.4 802.8 1177.8 801.6 1179.8 799.8 1181.3 797.5 1182.2 794.9 1182.3 792.2 1181.8 789.6 1177.8 778.4 1171.8 767.6 1165.4 757.7 1158.4 748.2 1151.0 739.1 1143.1 730.4 1134.8 722.2 1126.3 714.4 1117.5 706.9 1108.5 699.7 1099.4 692.8 1090.1 686.1 1080.8 679.6 1071.3 673.3 1061.9 667.1 1052.3 661.0 1042.8 655.0 1033.2 649.1 1023.6 643.2 1014.0 637.4 1004.4 631.6 994.8 625.8 985.2 620.0 975.7 614.2 966.2 608.4 956.7 602.4 947.3 596.4 937.9 590.4 928.6 584.3 919.2 578.2 909.9 572.0 900.6 565.8 891.3 559.6 882.0 553.3 872.6 547.1 863.3 540.9 854.0 534.6 844.6 528.4 835.2 522.3 825.8 516.1 816.4 510.0 807.1 503.8 797.7 497.7 788.4 491.5 779.1 485.3 769.8 479.1 760.6 472.8 751.5 466.5 742.4 460.1 733.4 453.6 724.4 447.0 715.6 440.3 706.8 433.5 698.2 426.6 689.7 419.5 681.3 412.3 673.1 405.0 665.0 397.5 657.1 389.8 649.4 382.0 641.8 374.0 634.5 365.8 627.2 357.5 620.2 349.0 613.4 340.4 606.7 331.6 600.1 322.7 593.7 313.7 587.5 304.6 581.4 295.4 575.5 286.0 569.7 276.6 564.1 267.1 558.5 257.5 553.1 247.8 547.9 238.0 542.7 228.2 537.7 218.3 532.7 208.4 527.9 198.3 523.2 188.3 518.5 178.2 514.0 168.0 509.5 157.8 505.2 147.6 500.9 137.3 496.6 127.0 492.4 116.4 487.6 106.0 486.3 103.9 484.5 102.3 482.3 101.1 479.9 100.5 477.4 100.6 475.0 101.4 472.9 102.7 471.3 104.5 470.1 106.7 469.5 109.1 469.6 111.6Z" fill="#9cb5c1"/>
<path d="M472.2 113.1 476.8 123.1 480.9 133.4 485.2 143.8 489.5 154.2 493.9 164.6 498.4 174.9 503.1 185.2 507.7 195.4 512.6 205.6 517.5 215.8 522.5 225.9 527.6 236.0 532.9 246.0 538.2 256.0 543.7 265.8 549.4 275.6 555.2 285.4 561.1 295.0 567.2 304.6 573.4 314.1 579.8 323.4 586.3 332.7 593.1 341.8 599.9 350.8 607.0 359.7 614.3 368.5 621.7 377.1 629.3 385.5 637.1 393.8 645.1 401.9 653.3 409.8 661.6 417.5 670.1 425.1 678.7 432.5 687.5 439.7 696.3 446.8 705.2 453.8 714.3 460.6 723.3 467.3 732.5 473.9 741.7 480.4 751.0 486.8 760.3 493.2 769.6 499.5 779.0 505.7 788.4 511.9 797.7 518.0 807.1 524.2 816.5 530.3 825.9 536.5 835.2 542.6 844.6 548.8 853.9 555.0 863.2 561.2 872.5 567.5 881.8 573.7 891.2 579.9 900.5 586.2 909.9 592.4 919.3 598.5 928.7 604.7 938.1 610.8 947.6 616.8 957.2 622.8 966.8 628.7 976.4 634.6 986.0 640.4 995.6 646.2 1005.2 651.9 1014.8 657.7 1024.3 663.6 1033.8 669.4 1043.3 675.3 1052.6 681.3 1062.0 687.4 1071.2 693.6 1080.3 699.9 1089.2 706.4 1097.9 713.1 1106.4 720.1 1114.7 727.3 1122.6 734.8 1130.1 742.6 1137.3 750.7 1144.0 759.2 1150.3 767.9 1156.0 777.0 1161.0 786.0 1164.3 795.7 1165.3 797.6 1166.7 799.2 1168.4 800.3 1170.5 801.0 1172.6 801.1 1174.7 800.7 1176.6 799.7 1178.2 798.3 1179.3 796.6 1180.0 794.5 1180.1 792.4 1179.7 790.3 1175.8 779.3 1169.9 768.7 1163.6 758.9 1156.7 749.5 1149.3 740.5 1141.6 731.9 1133.4 723.7 1124.9 715.9 1116.2 708.4 1107.3 701.3 1098.2 694.4 1088.9 687.7 1079.6 681.2 1070.2 674.9 1060.8 668.7 1051.3 662.7 1041.7 656.7 1032.1 650.8 1022.5 644.9 1012.9 639.1 1003.3 633.3 993.7 627.5 984.1 621.7 974.6 615.9 965.1 610.1 955.6 604.1 946.2 598.1 936.8 592.1 927.5 586.0 918.1 579.8 908.8 573.7 899.5 567.5 890.2 561.2 880.9 555.0 871.5 548.8 862.2 542.5 852.9 536.3 843.5 530.1 834.1 523.9 824.7 517.8 815.3 511.6 806.0 505.5 796.6 499.4 787.3 493.2 778.0 487.0 768.7 480.8 759.5 474.5 750.3 468.1 741.2 461.7 732.2 455.2 723.2 448.6 714.4 441.9 705.6 435.0 696.9 428.1 688.4 421.0 680.0 413.8 671.7 406.4 663.6 398.9 655.7 391.2 647.9 383.4 640.4 375.4 633.0 367.2 625.7 358.8 618.7 350.3 611.8 341.6 605.1 332.8 598.5 323.9 592.1 314.9 585.9 305.7 579.8 296.4 573.8 287.1 568.0 277.6 562.3 268.1 556.8 258.4 551.4 248.7 546.1 239.0 540.9 229.1 535.9 219.2 530.9 209.2 526.1 199.2 521.4 189.1 516.7 179.0 512.2 168.8 507.7 158.6 503.3 148.3 499.0 138.1 494.8 127.7 490.5 117.2 485.8 106.9 484.8 105.2 483.3 103.9 481.6 103.0 479.7 102.5 477.7 102.6 475.9 103.2 474.2 104.2 472.9 105.7 472.0 107.4 471.5 109.3 471.6 111.3Z" fill="#99b2bf"/>
<path d="M474.0 112.3 478.6 122.3 482.7 132.6 487.0 143.0 491.3 153.4 495.8 163.8 500.3 174.1 504.9 184.4 509.6 194.6 514.4 204.8 519.3 214.9 524.3 225.0 529.4 235.1 534.6 245.1 540.0 255.0 545.5 264.8 551.1 274.6 556.9 284.3 562.8 294.0 568.8 303.5 575.1 312.9 581.4 322.3 588.0 331.5 594.7 340.6 601.5 349.6 608.6 358.5 615.8 367.2 623.2 375.8 630.8 384.2 638.6 392.4 646.5 400.5 654.7 408.4 663.0 416.1 671.4 423.6 680.0 431.0 688.7 438.2 697.5 445.2 706.4 452.2 715.5 459.0 724.5 465.7 733.7 472.3 742.9 478.8 752.1 485.2 761.4 491.5 770.7 497.8 780.1 504.0 789.5 510.2 798.8 516.4 808.2 522.5 817.6 528.7 827.0 534.8 836.3 540.9 845.7 547.1 855.0 553.3 864.3 559.6 873.6 565.8 882.9 572.0 892.3 578.3 901.6 584.5 911.0 590.7 920.3 596.9 929.8 603.0 939.2 609.1 948.7 615.1 958.2 621.1 967.8 627.0 977.4 632.9 987.0 638.7 996.6 644.4 1006.2 650.2 1015.8 656.0 1025.3 661.9 1034.9 667.7 1044.3 673.6 1053.7 679.7 1063.1 685.8 1072.3 692.0 1081.4 698.3 1090.4 704.8 1099.2 711.6 1107.7 718.5 1116.0 725.8 1124.0 733.3 1131.7 741.1 1138.9 749.3 1145.7 757.8 1152.1 766.7 1157.9 775.9 1163.0 785.1 1166.4 794.9 1167.1 796.3 1168.1 797.5 1169.4 798.3 1170.9 798.8 1172.4 798.9 1173.9 798.6 1175.3 797.9 1176.5 796.9 1177.3 795.6 1177.8 794.1 1177.9 792.6 1177.6 791.1 1173.8 780.2 1168.0 769.8 1161.8 760.1 1155.0 750.8 1147.7 741.9 1140.0 733.3 1131.9 725.2 1123.5 717.4 1114.9 710.0 1106.0 702.9 1097.0 696.0 1087.8 689.3 1078.5 682.9 1069.1 676.6 1059.7 670.4 1050.2 664.3 1040.7 658.4 1031.1 652.5 1021.5 646.6 1011.9 640.8 1002.3 635.0 992.7 629.2 983.1 623.4 973.6 617.6 964.0 611.8 954.6 605.8 945.2 599.8 935.7 593.8 926.4 587.7 917.0 581.5 907.7 575.3 898.4 569.1 889.1 562.9 879.7 556.7 870.4 550.4 861.1 544.2 851.7 538.0 842.4 531.8 833.0 525.6 823.6 519.4 814.2 513.3 804.9 507.2 795.5 501.0 786.2 494.9 776.9 488.7 767.6 482.4 758.4 476.1 749.2 469.7 740.1 463.3 731.0 456.8 722.0 450.2 713.1 443.5 704.4 436.6 695.7 429.7 687.1 422.6 678.7 415.3 670.4 407.9 662.3 400.4 654.3 392.7 646.5 384.8 638.9 376.7 631.5 368.5 624.2 360.1 617.1 351.5 610.2 342.9 603.5 334.0 596.9 325.1 590.5 316.0 584.2 306.8 578.1 297.5 572.1 288.1 566.3 278.7 560.6 269.1 555.1 259.4 549.6 249.7 544.3 239.9 539.2 230.0 534.1 220.1 529.1 210.1 524.3 200.1 519.5 190.0 514.9 179.8 510.3 169.6 505.9 159.4 501.5 149.1 497.2 138.8 492.9 128.5 488.7 118.0 484.0 107.7 483.2 106.5 482.2 105.5 480.9 104.8 479.5 104.5 478.1 104.6 476.7 105.0 475.5 105.8 474.5 106.8 473.8 108.1 473.5 109.5 473.6 110.9Z" fill="#96afbc"/>
<path d="M475.8 111.5 480.4 121.5 484.6 131.9 488.8 142.3 493.2 152.6 497.6 163.0 502.1 173.3 506.7 183.5 511.4 193.8 516.2 203.9 521.0 214.1 526.0 224.1 531.2 234.2 536.4 244.1 541.7 254.0 547.2 263.9 552.8 273.6 558.6 283.3 564.5 292.9 570.5 302.4 576.7 311.8 583.1 321.1 589.6 330.3 596.3 339.4 603.1 348.4 610.1 357.2 617.3 365.9 624.7 374.4 632.3 382.8 640.0 391.0 648.0 399.1 656.1 406.9 664.3 414.6 672.8 422.1 681.3 429.4 690.0 436.6 698.8 443.7 707.7 450.6 716.6 457.4 725.7 464.1 734.8 470.6 744.0 477.1 753.2 483.5 762.5 489.9 771.8 496.1 781.2 502.4 790.6 508.5 799.9 514.7 809.3 520.8 818.7 527.0 828.1 533.1 837.4 539.3 846.8 545.5 856.1 551.7 865.4 557.9 874.7 564.1 884.1 570.4 893.4 576.6 902.7 582.8 912.1 589.0 921.4 595.2 930.9 601.3 940.3 607.4 949.8 613.4 959.3 619.4 968.9 625.3 978.4 631.1 988.0 636.9 997.6 642.7 1007.2 648.5 1016.8 654.3 1026.4 660.1 1035.9 666.0 1045.4 672.0 1054.8 678.0 1064.2 684.1 1073.4 690.3 1082.6 696.7 1091.6 703.2 1100.4 710.0 1109.0 717.0 1117.4 724.2 1125.5 731.8 1133.2 739.7 1140.6 747.9 1147.5 756.5 1153.9 765.5 1159.8 774.8 1165.0 784.2 1168.5 794.2 1168.9 795.1 1169.6 795.8 1170.4 796.3 1171.3 796.7 1172.3 796.7 1173.2 796.5 1174.1 796.1 1174.8 795.4 1175.3 794.6 1175.7 793.7 1175.7 792.7 1175.5 791.8 1171.8 781.1 1166.1 771.0 1160.0 761.3 1153.3 752.1 1146.1 743.2 1138.5 734.8 1130.5 726.7 1122.2 719.0 1113.6 711.5 1104.8 704.4 1095.8 697.6 1086.6 691.0 1077.4 684.5 1068.0 678.3 1058.6 672.1 1049.1 666.0 1039.6 660.1 1030.1 654.2 1020.5 648.3 1010.9 642.5 1001.3 636.7 991.7 631.0 982.1 625.2 972.5 619.3 963.0 613.5 953.5 607.5 944.1 601.5 934.7 595.4 925.3 589.3 915.9 583.2 906.6 577.0 897.3 570.8 887.9 564.5 878.6 558.3 869.3 552.1 860.0 545.8 850.6 539.6 841.3 533.4 831.9 527.3 822.5 521.1 813.1 515.0 803.8 508.8 794.4 502.7 785.1 496.5 775.7 490.3 766.5 484.1 757.2 477.8 748.0 471.4 738.9 464.9 729.8 458.4 720.8 451.8 711.9 445.0 703.1 438.2 694.4 431.2 685.8 424.1 677.4 416.8 669.0 409.4 660.9 401.8 652.9 394.1 645.1 386.2 637.4 378.1 630.0 369.8 622.7 361.4 615.6 352.8 608.6 344.1 601.9 335.2 595.3 326.2 588.8 317.2 582.5 307.9 576.4 298.6 570.4 289.2 564.6 279.7 558.9 270.1 553.3 260.4 547.9 250.7 542.6 240.8 537.4 230.9 532.3 221.0 527.3 211.0 522.5 200.9 517.7 190.8 513.1 180.6 508.5 170.4 504.0 160.2 499.6 149.9 495.3 139.6 491.1 129.2 486.9 118.8 482.2 108.5 481.7 107.8 481.0 107.1 480.2 106.7 479.3 106.5 478.4 106.5 477.5 106.8 476.8 107.3 476.1 108.0 475.7 108.8 475.5 109.7 475.5 110.6Z" fill="#92adba"/>
<path d="M477.6 110.6 482.3 120.7 486.4 131.1 490.7 141.5 495.0 151.9 499.4 162.2 503.9 172.5 508.5 182.7 513.2 192.9 518.0 203.1 522.8 213.2 527.8 223.2 532.9 233.2 538.2 243.2 543.5 253.1 549.0 262.9 554.6 272.6 560.3 282.3 566.2 291.8 572.2 301.3 578.4 310.7 584.7 320.0 591.2 329.2 597.9 338.2 604.7 347.2 611.7 356.0 618.9 364.6 626.2 373.1 633.7 381.5 641.5 389.6 649.4 397.6 657.4 405.5 665.7 413.1 674.1 420.6 682.6 427.9 691.3 435.1 700.0 442.1 708.9 449.0 717.8 455.8 726.9 462.4 736.0 469.0 745.2 475.5 754.4 481.9 763.7 488.2 773.0 494.5 782.3 500.7 791.7 506.9 801.0 513.0 810.4 519.2 819.8 525.3 829.2 531.4 838.5 537.6 847.9 543.8 857.2 550.0 866.5 556.2 875.8 562.5 885.2 568.7 894.5 574.9 903.8 581.2 913.2 587.3 922.5 593.5 931.9 599.6 941.4 605.7 950.8 611.7 960.3 617.7 969.9 623.6 979.5 629.4 989.1 635.2 998.7 641.0 1008.3 646.8 1017.9 652.6 1027.4 658.4 1037.0 664.3 1046.5 670.3 1055.9 676.3 1065.3 682.4 1074.6 688.7 1083.7 695.1 1092.8 701.6 1101.7 708.4 1110.4 715.4 1118.8 722.7 1126.9 730.3 1134.8 738.3 1142.2 746.6 1149.2 755.2 1155.7 764.2 1161.7 773.6 1167.0 783.3 1170.6 793.5 1170.8 793.8 1171.0 794.1 1171.3 794.4 1171.7 794.5 1172.1 794.5 1172.5 794.4 1172.8 794.2 1173.1 794.0 1173.4 793.7 1173.5 793.3 1173.5 792.9 1173.4 792.5 1169.8 782.0 1164.2 772.1 1158.2 762.6 1151.6 753.4 1144.5 744.6 1136.9 736.2 1129.0 728.2 1120.8 720.5 1112.3 713.1 1103.5 706.0 1094.6 699.2 1085.5 692.6 1076.2 686.2 1066.9 679.9 1057.5 673.8 1048.1 667.7 1038.6 661.8 1029.0 655.9 1019.4 650.0 1009.8 644.2 1000.2 638.5 990.6 632.7 981.0 626.9 971.5 621.0 961.9 615.1 952.4 609.2 943.0 603.2 933.6 597.1 924.2 591.0 914.8 584.8 905.5 578.7 896.1 572.4 886.8 566.2 877.5 560.0 868.2 553.7 858.9 547.5 849.5 541.3 840.2 535.1 830.8 528.9 821.4 522.8 812.1 516.7 802.7 510.5 793.3 504.4 784.0 498.2 774.6 492.0 765.3 485.7 756.1 479.4 746.9 473.0 737.7 466.6 728.6 460.0 719.6 453.4 710.7 446.6 701.9 439.8 693.2 432.8 684.5 425.6 676.1 418.3 667.7 410.9 659.5 403.3 651.5 395.5 643.6 387.6 635.9 379.4 628.5 371.1 621.1 362.7 614.0 354.1 607.0 345.3 600.3 336.4 593.6 327.4 587.2 318.3 580.9 309.0 574.7 299.7 568.7 290.3 562.9 280.7 557.1 271.1 551.6 261.4 546.1 251.6 540.8 241.8 535.6 231.9 530.5 221.9 525.5 211.9 520.7 201.8 515.9 191.6 511.2 181.5 506.7 171.2 502.2 161.0 497.8 150.7 493.5 140.3 489.2 130.0 485.0 119.6 480.4 109.4 480.2 109.0 479.9 108.8 479.5 108.6 479.1 108.5 478.7 108.5 478.4 108.6 478.0 108.8 477.8 109.1 477.6 109.5 477.5 109.9 477.5 110.3Z" fill="#8faab8"/>
</g>
<rect x="157.5" y="920" width="1233.5" height="111" fill="url(#sp)"/>
<g font-family="'DejaVu Sans', 'Liberation Sans', sans-serif" font-weight="bold" stroke-linejoin="miter" stroke-miterlimit="3">
<g transform="translate(257.90 0) scale(1.048 1) translate(-257.90 0)" font-weight="normal" font-family="'Liberation Sans', sans-serif" stroke-linejoin="round"><text x="257.90" y="992.90" font-size="65.07" text-anchor="middle" fill="#000" stroke="#000" stroke-width="17.4">O</text><text x="257.90" y="992.90" font-size="65.07" text-anchor="middle" fill="#fff" stroke="#fff" stroke-width="10.8">O</text></g>
<g transform="translate(430.40 0) scale(1.065 1) translate(-430.40 0)"><text x="430.40" y="996.70" font-size="69.44" text-anchor="middle" fill="#000" stroke="#000" stroke-width="9">B</text><text x="430.40" y="996.70" font-size="69.44" text-anchor="middle" fill="#fff" stroke="#fff" stroke-width="2.4">B</text></g>
<g transform="translate(598.30 0) scale(0.995 1) translate(-598.30 0)"><text x="598.30" y="995.75" font-size="67.66" text-anchor="middle" fill="#000" stroke="#000" stroke-width="10.5">A</text><text x="598.30" y="995.75" font-size="67.66" text-anchor="middle" fill="#fff" stroke="#fff" stroke-width="4">A</text></g>
<g transform="translate(760.50 0) scale(0.977 1) translate(-760.50 0)"><text x="760.50" y="996.30" font-size="70.32" text-anchor="middle" fill="#000" stroke="#000" stroke-width="7.4">F</text><text x="760.50" y="996.30" font-size="70.32" text-anchor="middle" fill="#fff" stroke="#fff" stroke-width="0.8">F</text></g>
<g transform="translate(926.70 0) scale(1.080 1) translate(-926.70 0)"><text x="926.70" y="997.30" font-size="72.61" text-anchor="middle" fill="#000" stroke="#000" stroke-width="8.6">G</text><text x="926.70" y="997.30" font-size="72.61" text-anchor="middle" fill="#fff" stroke="#fff" stroke-width="2">G</text></g>
<g transform="translate(1095.60 0) scale(0.955 1) translate(-1095.60 0)"><text x="1095.60" y="995.75" font-size="67.72" text-anchor="middle" fill="#000" stroke="#000" stroke-width="10.5">K</text><text x="1095.60" y="995.75" font-size="67.72" text-anchor="middle" fill="#fff" stroke="#fff" stroke-width="4">K</text></g>
<g transform="translate(1278.00 0) scale(1.207 1) translate(-1278.00 0)"><text x="1278.00" y="995.75" font-size="67.72" text-anchor="middle" fill="#000" stroke="#000" stroke-width="10.5">M</text><text x="1278.00" y="995.75" font-size="67.72" text-anchor="middle" fill="#fff" stroke="#fff" stroke-width="4">M</text></g>
</g>
<g stroke="#000" fill="none" stroke-linecap="butt">
<line x1="254.55" y1="105" x2="254.55" y2="837.35" stroke-width="3"/>
<line x1="180" y1="835.6" x2="1392.5" y2="835.6" stroke-width="3.5"/>
<line x1="254.55" y1="321.3" x2="292" y2="321.3" stroke-width="3"/>
<line x1="254.55" y1="561.6" x2="292" y2="561.6" stroke-width="3"/>
<line x1="254.55" y1="801.4" x2="292" y2="801.4" stroke-width="3"/>
<line x1="1006.5" y1="47.6" x2="1128" y2="136" stroke-width="3"/>
<line x1="1016.5" y1="572.6" x2="1130.6" y2="588" stroke-width="3"/>
</g>
<path d="M254.55 85.6 Q250.805 106.84 243.85 121 Q254.55 115.8 265.25 121 Q258.295 106.84 254.55 85.6 Z" fill="#000"/>
<path d="M160 835.6 Q178.72 830.804 196 824.7 Q193.2 835.6 196 846.5 Q178.72 840.396 160 835.6 Z" fill="#000"/>
<g>
<ellipse cx="800.1" cy="211.7" rx="4.6" ry="4.6" fill="#000"/>
<ellipse cx="843.0" cy="225.6" rx="4.6" ry="4.6" fill="#000"/>
<ellipse cx="795.1" cy="238.8" rx="4.6" ry="4.6" fill="#000"/>
<ellipse cx="816.8" cy="235.5" rx="4.6" ry="4.6" fill="#000"/>
<ellipse cx="833.6" cy="238.2" rx="4.6" ry="4.6" fill="#000"/>
<ellipse cx="813.9" cy="252.1" rx="4.6" ry="4.6" fill="#000"/>
<ellipse cx="841.4" cy="253.7" rx="4.6" ry="4.6" fill="#000"/>
<ellipse cx="863.8" cy="222.3" rx="4.3" ry="4.3" fill="#fdfdf6" stroke="#b8b8b0" stroke-width="1.4"/>
<ellipse cx="894.7" cy="206.5" rx="4.5" ry="4.5" fill="#fdf3a2" stroke="#cfc790" stroke-width="1.4"/>
<ellipse cx="887.1" cy="229.5" rx="4.5" ry="4.5" fill="#fdf3a2" stroke="#cfc790" stroke-width="1.4"/>
<ellipse cx="915.0" cy="230.5" rx="4.5" ry="4.5" fill="#fdf3a2" stroke="#cfc790" stroke-width="1.4"/>
<ellipse cx="936.3" cy="227.2" rx="4.5" ry="4.5" fill="#fdf3a2" stroke="#cfc790" stroke-width="1.4"/>
<ellipse cx="963.0" cy="218.6" rx="4.5" ry="4.5" fill="#fdf3a2" stroke="#cfc790" stroke-width="1.4"/>
<ellipse cx="948.9" cy="236.4" rx="4.5" ry="4.5" fill="#fdf3a2" stroke="#cfc790" stroke-width="1.4"/>
<ellipse cx="873.6" cy="248.2" rx="4.5" ry="4.5" fill="#fdf3a2" stroke="#cfc790" stroke-width="1.4"/>
<ellipse cx="895.1" cy="245.1" rx="4.5" ry="4.5" fill="#fdf3a2" stroke="#cfc790" stroke-width="1.4"/>
<ellipse cx="918.1" cy="252.1" rx="4.5" ry="4.5" fill="#fdf3a2" stroke="#cfc790" stroke-width="1.4"/>
<ellipse cx="939.9" cy="248.8" rx="4.5" ry="4.5" fill="#fdf3a2" stroke="#cfc790" stroke-width="1.4"/>
<ellipse cx="956.7" cy="251.4" rx="4.5" ry="4.5" fill="#fdf3a2" stroke="#cfc790" stroke-width="1.4"/>
<ellipse cx="596.1" cy="697.1" rx="4.5" ry="4.5" fill="#000"/>
<ellipse cx="593.0" cy="727.5" rx="4.5" ry="4.5" fill="#000"/>
<ellipse cx="624.2" cy="718.7" rx="4.5" ry="4.5" fill="#000"/>
<ellipse cx="631.5" cy="735.0" rx="4.5" ry="4.5" fill="#000"/>
<ellipse cx="654.3" cy="697.0" rx="4.5" ry="4.5" fill="#000"/>
<ellipse cx="670.4" cy="704.2" rx="4.5" ry="4.5" fill="#000"/>
<ellipse cx="692.7" cy="688.9" rx="4.5" ry="4.5" fill="#000"/>
<ellipse cx="688.5" cy="723.6" rx="4.5" ry="4.5" fill="#000"/>
<ellipse cx="1285.2" cy="81.3" rx="4.6" ry="4.6" fill="#ed1c40"/>
<ellipse cx="1242.9" cy="88.2" rx="4.6" ry="4.6" fill="#f1583a"/>
<ellipse cx="1223.4" cy="111.7" rx="4.6" ry="4.6" fill="#f46a38"/>
<ellipse cx="1223.4" cy="127.7" rx="4.6" ry="4.6" fill="#f46a38"/>
<ellipse cx="1192.8" cy="134.7" rx="4.6" ry="4.6" fill="#f67c34"/>
<ellipse cx="1192.8" cy="150.7" rx="4.6" ry="4.6" fill="#f67c34"/>
<ellipse cx="1162.2" cy="127.5" rx="4.6" ry="4.6" fill="#f98c2e"/>
<ellipse cx="1146.4" cy="150.5" rx="4.5" ry="4.5" fill="#fa962f" stroke="#aa6725" stroke-width="1.4"/>
<ellipse cx="1077.4" cy="150.5" rx="4.5" ry="4.5" fill="#fbb13e" stroke="#aa7a31" stroke-width="1.4"/>
<ellipse cx="1115.8" cy="166.1" rx="4.5" ry="4.5" fill="#fa9d33" stroke="#aa6c28" stroke-width="1.4"/>
<ellipse cx="1162.2" cy="181.5" rx="4.6" ry="4.6" fill="#f98c2e"/>
<ellipse cx="1162.2" cy="212.1" rx="4.6" ry="4.6" fill="#f98c2e"/>
<ellipse cx="1132.9" cy="223.4" rx="4.5" ry="4.5" fill="#fa9931" stroke="#aa6927" stroke-width="1.4"/>
<ellipse cx="1130.1" cy="242.7" rx="4.5" ry="4.5" fill="#fa9931" stroke="#aa6927" stroke-width="1.4"/>
<ellipse cx="1138.0" cy="263.6" rx="4.5" ry="4.5" fill="#fa9830" stroke="#aa6826" stroke-width="1.4"/>
<ellipse cx="1126.5" cy="292.5" rx="4.5" ry="4.5" fill="#fa9a32" stroke="#aa6a28" stroke-width="1.4"/>
<ellipse cx="1094.5" cy="289.1" rx="4.5" ry="4.5" fill="#fba838" stroke="#aa732c" stroke-width="1.4"/>
<ellipse cx="1089.8" cy="305.4" rx="4.5" ry="4.5" fill="#fbaa39" stroke="#aa752d" stroke-width="1.4"/>
<ellipse cx="1061.0" cy="324.6" rx="4.5" ry="4.5" fill="#fcbc42" stroke="#ab8134" stroke-width="1.4"/>
<ellipse cx="1076.1" cy="322.7" rx="4.5" ry="4.5" fill="#fbb23e" stroke="#aa7a31" stroke-width="1.4"/>
<ellipse cx="1093.0" cy="327.9" rx="4.5" ry="4.5" fill="#fba938" stroke="#aa742c" stroke-width="1.4"/>
<ellipse cx="1107.6" cy="325.9" rx="4.5" ry="4.5" fill="#fa9f34" stroke="#aa6d29" stroke-width="1.4"/>
<ellipse cx="1094.5" cy="343.4" rx="4.5" ry="4.5" fill="#fba838" stroke="#aa732c" stroke-width="1.4"/>
<ellipse cx="1110.7" cy="348.5" rx="4.5" ry="4.5" fill="#fa9e34" stroke="#aa6d29" stroke-width="1.4"/>
<ellipse cx="1082.8" cy="368.7" rx="4.5" ry="4.5" fill="#fbae3c" stroke="#aa7830" stroke-width="1.4"/>
<ellipse cx="1053.0" cy="380.4" rx="4.5" ry="4.5" fill="#fcc543" stroke="#ab8735" stroke-width="1.4"/>
<ellipse cx="1048.0" cy="396.5" rx="4.5" ry="4.5" fill="#fcca44" stroke="#ab8b36" stroke-width="1.4"/>
<ellipse cx="1064.1" cy="402.1" rx="4.5" ry="4.5" fill="#fcba41" stroke="#ab8034" stroke-width="1.4"/>
<ellipse cx="1080.3" cy="407.8" rx="4.5" ry="4.5" fill="#fbb03d" stroke="#aa7930" stroke-width="1.4"/>
<ellipse cx="1049.8" cy="412.1" rx="4.5" ry="4.5" fill="#fcc844" stroke="#ab8a36" stroke-width="1.4"/>
<ellipse cx="1067.4" cy="425.3" rx="4.5" ry="4.5" fill="#fcb840" stroke="#ab7e33" stroke-width="1.4"/>
<ellipse cx="1030.9" cy="442.3" rx="4.5" ry="4.5" fill="#fdd449" stroke="#ac923a" stroke-width="1.4"/>
<ellipse cx="1046.9" cy="450.2" rx="4.5" ry="4.5" fill="#fccb44" stroke="#ab8c36" stroke-width="1.4"/>
<ellipse cx="1016.0" cy="466.1" rx="4.5" ry="4.5" fill="#fddb4f" stroke="#ac973f" stroke-width="1.4"/>
<ellipse cx="1016.0" cy="480.8" rx="4.5" ry="4.5" fill="#fddb4f" stroke="#ac973f" stroke-width="1.4"/>
<ellipse cx="1054.6" cy="488.7" rx="4.5" ry="4.5" fill="#fcc343" stroke="#ab8635" stroke-width="1.4"/>
<ellipse cx="1008.4" cy="496.7" rx="4.5" ry="4.5" fill="#fedf52" stroke="#ac9941" stroke-width="1.4"/>
<ellipse cx="1023.6" cy="511.9" rx="4.5" ry="4.5" fill="#fdd84c" stroke="#ac953c" stroke-width="1.4"/>
<ellipse cx="1046.8" cy="518.9" rx="4.5" ry="4.5" fill="#fccb44" stroke="#ab8c36" stroke-width="1.4"/>
<ellipse cx="984.5" cy="527.1" rx="4.5" ry="4.5" fill="#fee464" stroke="#ac9d50" stroke-width="1.4"/>
<ellipse cx="1008.5" cy="526.8" rx="4.5" ry="4.5" fill="#fedf52" stroke="#ac9941" stroke-width="1.4"/>
<ellipse cx="1008.5" cy="534.8" rx="4.5" ry="4.5" fill="#fedf52" stroke="#ac9941" stroke-width="1.4"/>
<ellipse cx="1033.9" cy="538.1" rx="4.5" ry="4.5" fill="#fdd248" stroke="#ac9039" stroke-width="1.4"/>
<ellipse cx="962.0" cy="535.1" rx="4.5" ry="4.5" fill="#feec78" stroke="#aca260" stroke-width="1.4"/>
<ellipse cx="928.9" cy="540.5" rx="4.5" ry="4.5" fill="#fff39d" stroke="#ada77d" stroke-width="1.4"/>
<ellipse cx="977.5" cy="542.5" rx="4.5" ry="4.5" fill="#fee76b" stroke="#ac9f55" stroke-width="1.4"/>
<ellipse cx="1000.4" cy="550.3" rx="4.5" ry="4.5" fill="#fee158" stroke="#ac9b46" stroke-width="1.4"/>
<ellipse cx="1020.7" cy="555.0" rx="4.5" ry="4.5" fill="#fdd94d" stroke="#ac953d" stroke-width="1.4"/>
<ellipse cx="943.1" cy="560.7" rx="4.5" ry="4.5" fill="#fff18e" stroke="#ada671" stroke-width="1.4"/>
<ellipse cx="962.0" cy="557.6" rx="4.5" ry="4.5" fill="#feec78" stroke="#aca260" stroke-width="1.4"/>
<ellipse cx="985.2" cy="557.6" rx="4.5" ry="4.5" fill="#fee464" stroke="#ac9d50" stroke-width="1.4"/>
<ellipse cx="918.6" cy="563.6" rx="4.5" ry="4.5" fill="#fff4a8" stroke="#ada886" stroke-width="1.4"/>
<ellipse cx="919.9" cy="579.0" rx="4.5" ry="4.5" fill="#fff4a7" stroke="#ada885" stroke-width="1.4"/>
<ellipse cx="955.3" cy="578.3" rx="4.5" ry="4.5" fill="#feee80" stroke="#aca466" stroke-width="1.4"/>
<ellipse cx="941.1" cy="583.9" rx="4.5" ry="4.5" fill="#fff290" stroke="#ada673" stroke-width="1.4"/>
<ellipse cx="954.1" cy="595.2" rx="4.5" ry="4.5" fill="#feee81" stroke="#aca467" stroke-width="1.4"/>
<ellipse cx="972.9" cy="597.5" rx="4.5" ry="4.5" fill="#fee86f" stroke="#aca058" stroke-width="1.4"/>
<ellipse cx="940.0" cy="600.9" rx="4.5" ry="4.5" fill="#fff291" stroke="#ada674" stroke-width="1.4"/>
<ellipse cx="985.8" cy="615.4" rx="4.5" ry="4.5" fill="#fee463" stroke="#ac9d4f" stroke-width="1.4"/>
<ellipse cx="1009.0" cy="614.7" rx="4.5" ry="4.5" fill="#fedf52" stroke="#ac9941" stroke-width="1.4"/>
<ellipse cx="963.2" cy="621.0" rx="4.5" ry="4.5" fill="#feec77" stroke="#aca25f" stroke-width="1.4"/>
<ellipse cx="979.0" cy="630.3" rx="4.5" ry="4.5" fill="#fee669" stroke="#ac9e54" stroke-width="1.4"/>
<ellipse cx="1032.9" cy="628.9" rx="4.5" ry="4.5" fill="#fdd349" stroke="#ac913a" stroke-width="1.4"/>
<ellipse cx="1040.9" cy="636.7" rx="4.5" ry="4.5" fill="#fcce46" stroke="#ab8e38" stroke-width="1.4"/>
<ellipse cx="1064.1" cy="635.6" rx="4.5" ry="4.5" fill="#fcba41" stroke="#ab8034" stroke-width="1.4"/>
<ellipse cx="994.5" cy="638.3" rx="4.5" ry="4.5" fill="#fee25d" stroke="#ac9b4a" stroke-width="1.4"/>
<ellipse cx="1009.7" cy="638.0" rx="4.5" ry="4.5" fill="#fede51" stroke="#ac9940" stroke-width="1.4"/>
<ellipse cx="972.0" cy="645.3" rx="4.5" ry="4.5" fill="#fee96f" stroke="#aca058" stroke-width="1.4"/>
<ellipse cx="1048.8" cy="651.5" rx="4.5" ry="4.5" fill="#fcc944" stroke="#ab8a36" stroke-width="1.4"/>
<ellipse cx="1064.1" cy="651.2" rx="4.5" ry="4.5" fill="#fcba41" stroke="#ab8034" stroke-width="1.4"/>
<ellipse cx="987.2" cy="653.8" rx="4.5" ry="4.5" fill="#fee462" stroke="#ac9d4e" stroke-width="1.4"/>
<ellipse cx="1003.3" cy="660.9" rx="4.5" ry="4.5" fill="#fee056" stroke="#ac9a44" stroke-width="1.4"/>
<ellipse cx="1025.9" cy="659.9" rx="4.5" ry="4.5" fill="#fdd64b" stroke="#ac933c" stroke-width="1.4"/>
<ellipse cx="1057.8" cy="666.7" rx="4.5" ry="4.5" fill="#fcbf42" stroke="#ab8334" stroke-width="1.4"/>
<ellipse cx="998.7" cy="673.0" rx="4.5" ry="4.5" fill="#fee159" stroke="#ac9b47" stroke-width="1.4"/>
<ellipse cx="1026.7" cy="675.4" rx="4.5" ry="4.5" fill="#fdd64b" stroke="#ac933c" stroke-width="1.4"/>
<ellipse cx="1044.8" cy="681.8" rx="4.5" ry="4.5" fill="#fccc45" stroke="#ab8c37" stroke-width="1.4"/>
<ellipse cx="1081.0" cy="681.7" rx="4.5" ry="4.5" fill="#fbaf3c" stroke="#aa7830" stroke-width="1.4"/>
<ellipse cx="1065.7" cy="697.3" rx="4.5" ry="4.5" fill="#fcb941" stroke="#ab7f34" stroke-width="1.4"/>
<ellipse cx="1065.7" cy="704.8" rx="4.5" ry="4.5" fill="#fcb941" stroke="#ab7f34" stroke-width="1.4"/>
<ellipse cx="1074.3" cy="704.5" rx="4.5" ry="4.5" fill="#fbb33e" stroke="#aa7b31" stroke-width="1.4"/>
<ellipse cx="1043.2" cy="705.9" rx="4.5" ry="4.5" fill="#fccd45" stroke="#ab8d37" stroke-width="1.4"/>
<ellipse cx="1104.2" cy="695.9" rx="4.5" ry="4.5" fill="#faa135" stroke="#aa6f2a" stroke-width="1.4"/>
<ellipse cx="1120.2" cy="710.6" rx="4.5" ry="4.5" fill="#fa9c33" stroke="#aa6b28" stroke-width="1.4"/>
<ellipse cx="1136.0" cy="710.5" rx="4.5" ry="4.5" fill="#fa9830" stroke="#aa6826" stroke-width="1.4"/>
<ellipse cx="1105.9" cy="726.7" rx="4.5" ry="4.5" fill="#faa035" stroke="#aa6e2a" stroke-width="1.4"/>
<ellipse cx="1073.7" cy="732.4" rx="4.5" ry="4.5" fill="#fbb43f" stroke="#aa7c32" stroke-width="1.4"/>
<ellipse cx="1128.8" cy="733.1" rx="4.5" ry="4.5" fill="#fa9932" stroke="#aa6928" stroke-width="1.4"/>
<ellipse cx="1144.3" cy="733.1" rx="4.5" ry="4.5" fill="#fa962f" stroke="#aa6725" stroke-width="1.4"/>
<ellipse cx="1097.0" cy="742.0" rx="4.5" ry="4.5" fill="#fba637" stroke="#aa722c" stroke-width="1.4"/>
<ellipse cx="1118.8" cy="749.9" rx="4.5" ry="4.5" fill="#fa9c33" stroke="#aa6b28" stroke-width="1.4"/>
<ellipse cx="1137.1" cy="753.9" rx="4.5" ry="4.5" fill="#fa9830" stroke="#aa6826" stroke-width="1.4"/>
<ellipse cx="1103.9" cy="764.3" rx="4.5" ry="4.5" fill="#faa235" stroke="#aa6f2a" stroke-width="1.4"/>
<ellipse cx="1119.4" cy="777.9" rx="4.5" ry="4.5" fill="#fa9c33" stroke="#aa6b28" stroke-width="1.4"/>
<ellipse cx="1110.4" cy="799.4" rx="4.5" ry="4.5" fill="#fa9e34" stroke="#aa6d29" stroke-width="1.4"/>
<ellipse cx="1138.0" cy="813.8" rx="4.5" ry="4.5" fill="#fa9830" stroke="#aa6826" stroke-width="1.4"/>
<ellipse cx="1065.6" cy="357.0" rx="4.7" ry="5.7" fill="#fcb941" stroke="#ab7f34" stroke-width="1.4" transform="rotate(-10 1065.6 357.0)"/>
<ellipse cx="1081.1" cy="355.0" rx="4.2" ry="6.4" fill="#fbaf3c" stroke="#aa7830" stroke-width="1.4" transform="rotate(-15 1081.1 355.0)"/>
<ellipse cx="1146.1" cy="743.1" rx="4.6" ry="4.6" fill="#fa942f"/>
<ellipse cx="1149.0" cy="757.4" rx="4.6" ry="4.6" fill="#fa922f"/>
<ellipse cx="1159.6" cy="732.7" rx="4.6" ry="4.6" fill="#f98c2e"/>
<ellipse cx="1152.4" cy="747.6" rx="4.6" ry="4.6" fill="#f9902e"/>
<ellipse cx="1184.5" cy="746.8" rx="4.6" ry="4.6" fill="#f77f33"/>
<ellipse cx="1198.5" cy="776.5" rx="4.6" ry="4.6" fill="#f57735"/>
<ellipse cx="1160.9" cy="777.3" rx="4.6" ry="4.6" fill="#f98b2e"/>
<ellipse cx="1160.2" cy="785.2" rx="4.6" ry="4.6" fill="#f98b2e"/>
<ellipse cx="1175.6" cy="792.4" rx="4.6" ry="4.6" fill="#f78331"/>
<ellipse cx="1148.9" cy="795.9" rx="4.6" ry="4.6" fill="#fa922f"/>
<ellipse cx="1190.9" cy="800.2" rx="4.6" ry="4.6" fill="#f67b34"/>
<ellipse cx="1176.2" cy="808.3" rx="4.6" ry="4.6" fill="#f78331"/>
<ellipse cx="1206.7" cy="806.7" rx="4.6" ry="4.6" fill="#f57236"/>
<ellipse cx="1222.4" cy="798.5" rx="4.6" ry="4.6" fill="#f46838"/>
<ellipse cx="1238.9" cy="789.1" rx="4.6" ry="4.6" fill="#f1593a"/>
<ellipse cx="1245.6" cy="813.1" rx="4.6" ry="4.6" fill="#f0503b"/>
<ellipse cx="1168.8" cy="816.0" rx="4.6" ry="4.6" fill="#f88730"/>
<ellipse cx="1192.4" cy="815.6" rx="4.6" ry="4.6" fill="#f67b34"/>
<ellipse cx="1167.6" cy="762.6" rx="5.6" ry="5.2" fill="#f88830"/>
</g>
<g font-family="'Liberation Sans', Arial, Helvetica, sans-serif" fill="#000">
<text x="435.0" y="47.0" font-size="51" textLength="562.5" lengthAdjust="spacingAndGlyphs">Asymptotic giant branch</text>
<text x="722.0" y="135.3" font-size="51" textLength="233.5" lengthAdjust="spacingAndGlyphs">Horizontal</text>
<text x="765.5" y="192.5" font-size="51" textLength="160" lengthAdjust="spacingAndGlyphs">branch</text>
<text x="1153.2" y="366.0" font-size="51" textLength="225" lengthAdjust="spacingAndGlyphs">Red-giant</text>
<text x="1154.2" y="423.5" font-size="51" textLength="159.2" lengthAdjust="spacingAndGlyphs">branch</text>
<text x="1138.0" y="580.8" font-size="51" textLength="204.8" lengthAdjust="spacingAndGlyphs">Subgiant</text>
<text x="1139.6" y="642.0" font-size="51" textLength="159.6" lengthAdjust="spacingAndGlyphs">branch</text>
<text x="455.7" y="620.8" font-size="51" textLength="132" lengthAdjust="spacingAndGlyphs">White</text>
<text x="455.2" y="678.6" font-size="51" textLength="155.3" lengthAdjust="spacingAndGlyphs">dwarfs</text>
<text x="143.0" y="334.4" font-size="51" textLength="86.6" lengthAdjust="spacingAndGlyphs">100</text>
<text x="202.1" y="580.2" font-size="51">1</text>
<text x="129.6" y="815.4" font-size="51" textLength="101.4" lengthAdjust="spacingAndGlyphs">0.01</text>
<text x="4.7" y="803.4" font-size="51" textLength="56.3" lengthAdjust="spacingAndGlyphs">(e)</text>
<text x="292.2" y="803.8" font-size="51" textLength="113.6" lengthAdjust="spacingAndGlyphs">Time</text>
<text x="417.2" y="803.8" font-size="51" textLength="32.4" lengthAdjust="spacingAndGlyphs">=</text>
<text x="461.3" y="803.8" font-size="51" textLength="56" lengthAdjust="spacingAndGlyphs">10</text>
<text x="516.2" y="778.0" font-size="35.2" textLength="43.6" lengthAdjust="spacingAndGlyphs">10</text>
<text x="577.7" y="803.8" font-size="51">yr</text>
<text x="6.0" y="1050.0" font-size="12" textLength="175.5" lengthAdjust="spacingAndGlyphs">© 2011 Pearson Education, Inc.</text>
</g>
<rect x="145.95" y="329.99" width="9.95" height="5.41" fill="#fff"/>
<rect x="160.79" y="329.99" width="9.54" height="5.41" fill="#fff"/>
<rect x="204.98" y="575.79" width="9.79" height="5.41" fill="#fff"/>
<rect x="219.58" y="575.79" width="9.39" height="5.41" fill="#fff"/>
<rect x="204.99" y="810.99" width="9.98" height="5.41" fill="#fff"/>
<rect x="219.88" y="810.99" width="9.58" height="5.41" fill="#fff"/>
<rect x="464.13" y="799.39" width="9.68" height="5.41" fill="#fff"/>
<rect x="478.56" y="799.39" width="9.28" height="5.41" fill="#fff"/>
<rect x="518.19" y="774.77" width="7.72" height="4.23" fill="#fff"/>
<rect x="529.67" y="774.77" width="7.41" height="4.23" fill="#fff"/>
</svg>
</body></html>
